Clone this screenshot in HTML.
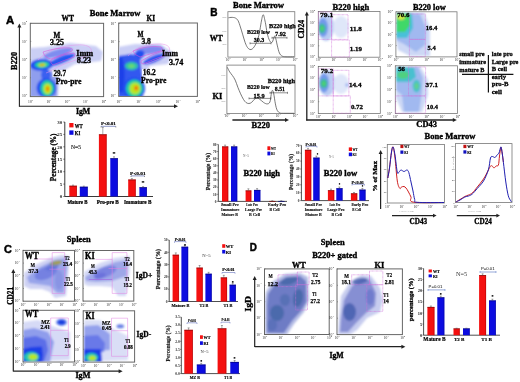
<!DOCTYPE html>
<html><head><meta charset="utf-8"><style>
html,body{margin:0;padding:0;background:#fff;width:520px;height:382px;overflow:hidden;}
svg{display:block;font-family:"Liberation Serif",serif;filter:blur(0.3px);}
</style></head><body>
<svg width="520" height="382" viewBox="0 0 520 382">
<rect x="0" y="0" width="520" height="382" fill="#fff"/>
<text x="6.0" y="24.0" font-size="11" font-weight="bold" font-family="'Liberation Sans', sans-serif" fill="#000" stroke="#000" stroke-width="0.47" textLength="8.2" lengthAdjust="spacingAndGlyphs">A</text>
<text x="89.7" y="16.4" font-size="8.8" font-weight="bold" font-family="'Liberation Serif', serif" fill="#000" stroke="#000" stroke-width="0.37" textLength="50.8" lengthAdjust="spacingAndGlyphs">Bone Marrow</text>
<text x="61.5" y="20.8" font-size="8.8" font-weight="bold" font-family="'Liberation Serif', serif" fill="#000" stroke="#000" stroke-width="0.37" textLength="12.5" lengthAdjust="spacingAndGlyphs">WT</text>
<text x="146.5" y="21.0" font-size="8.8" font-weight="bold" font-family="'Liberation Serif', serif" fill="#000" stroke="#000" stroke-width="0.37" textLength="8.5" lengthAdjust="spacingAndGlyphs">KI</text>
<line x1="19.4" y1="27.1" x2="19.4" y2="106.7" stroke="#222" stroke-width="1.1"/>
<polygon points="19.4,23.6 17.4,27.6 21.4,27.6" fill="#222"/>
<line x1="19.3" y1="106.2" x2="174.5" y2="106.2" stroke="#222" stroke-width="1.1"/>
<polygon points="178.0,106.2 174.0,104.2 174.0,108.2" fill="#222"/>
<text stroke="#000" stroke-width="0.33" transform="translate(17.1,69.9) rotate(-90)" x="0" y="0" font-size="7.8" font-weight="bold" font-family="'Liberation Serif', serif" fill="#000" textLength="18.1" lengthAdjust="spacingAndGlyphs">B220</text>
<text x="75.9" y="114.2" font-size="8.6" font-weight="bold" font-family="'Liberation Serif', serif" fill="#000" stroke="#000" stroke-width="0.37" textLength="14.4" lengthAdjust="spacingAndGlyphs">IgM</text>
<rect x="30.3" y="23.3" width="73.3" height="73.3" fill="#fff" stroke="#666" stroke-width="1.0"/>
<text x="22.0" y="24.5" font-size="3.2" font-family="'Liberation Serif', serif" fill="#2a2a2a" textLength="3.7" lengthAdjust="spacingAndGlyphs">10</text>
<text x="26.0" y="22.4" font-size="2.4" font-family="'Liberation Serif', serif" fill="#2a2a2a">4</text>
<line x1="30.3" y1="23.3" x2="31.3" y2="23.3" stroke="#555" stroke-width="0.5"/>
<text x="22.0" y="42.6" font-size="3.2" font-family="'Liberation Serif', serif" fill="#2a2a2a" textLength="3.7" lengthAdjust="spacingAndGlyphs">10</text>
<text x="26.0" y="40.5" font-size="2.4" font-family="'Liberation Serif', serif" fill="#2a2a2a">3</text>
<line x1="30.3" y1="41.4" x2="31.3" y2="41.4" stroke="#555" stroke-width="0.5"/>
<text x="22.0" y="60.8" font-size="3.2" font-family="'Liberation Serif', serif" fill="#2a2a2a" textLength="3.7" lengthAdjust="spacingAndGlyphs">10</text>
<text x="26.0" y="58.6" font-size="2.4" font-family="'Liberation Serif', serif" fill="#2a2a2a">2</text>
<line x1="30.3" y1="59.5" x2="31.3" y2="59.5" stroke="#555" stroke-width="0.5"/>
<text x="22.0" y="78.9" font-size="3.2" font-family="'Liberation Serif', serif" fill="#2a2a2a" textLength="3.7" lengthAdjust="spacingAndGlyphs">10</text>
<text x="26.0" y="76.8" font-size="2.4" font-family="'Liberation Serif', serif" fill="#2a2a2a">1</text>
<line x1="30.3" y1="77.7" x2="31.3" y2="77.7" stroke="#555" stroke-width="0.5"/>
<text x="22.0" y="97.0" font-size="3.2" font-family="'Liberation Serif', serif" fill="#2a2a2a" textLength="3.7" lengthAdjust="spacingAndGlyphs">10</text>
<text x="26.0" y="94.9" font-size="2.4" font-family="'Liberation Serif', serif" fill="#2a2a2a">0</text>
<line x1="30.3" y1="95.8" x2="31.3" y2="95.8" stroke="#555" stroke-width="0.5"/>
<text x="28.1" y="102.8" font-size="3.4" font-family="'Liberation Serif', serif" fill="#2a2a2a" textLength="3.6" lengthAdjust="spacingAndGlyphs">10</text>
<text x="31.8" y="100.8" font-size="2.4" font-family="'Liberation Serif', serif" fill="#2a2a2a">0</text>
<text x="46.4" y="102.8" font-size="3.4" font-family="'Liberation Serif', serif" fill="#2a2a2a" textLength="3.6" lengthAdjust="spacingAndGlyphs">10</text>
<text x="50.1" y="100.8" font-size="2.4" font-family="'Liberation Serif', serif" fill="#2a2a2a">1</text>
<text x="64.8" y="102.8" font-size="3.4" font-family="'Liberation Serif', serif" fill="#2a2a2a" textLength="3.6" lengthAdjust="spacingAndGlyphs">10</text>
<text x="68.5" y="100.8" font-size="2.4" font-family="'Liberation Serif', serif" fill="#2a2a2a">2</text>
<text x="83.1" y="102.8" font-size="3.4" font-family="'Liberation Serif', serif" fill="#2a2a2a" textLength="3.6" lengthAdjust="spacingAndGlyphs">10</text>
<text x="86.8" y="100.8" font-size="2.4" font-family="'Liberation Serif', serif" fill="#2a2a2a">3</text>
<text x="101.4" y="102.8" font-size="3.4" font-family="'Liberation Serif', serif" fill="#2a2a2a" textLength="3.6" lengthAdjust="spacingAndGlyphs">10</text>
<text x="105.1" y="100.8" font-size="2.4" font-family="'Liberation Serif', serif" fill="#2a2a2a">4</text>
<defs><filter id="f1" x="-50%" y="-50%" width="200%" height="200%"><feGaussianBlur stdDeviation="0.9"/></filter><clipPath id="c1"><rect x="30.8" y="23.8" width="72.3" height="72.3"/></clipPath></defs>
<g clip-path="url(#c1)"><g filter="url(#f1)">
<polygon points="30.0,48.0 45.0,47.0 70.0,43.0 96.0,46.0 103.0,52.0 101.0,61.0 75.0,64.0 60.0,73.0 58.0,97.0 30.0,97.0" fill="#c8ccf4" fill-opacity="0.95"/>
<polygon points="30.0,66.0 40.0,68.0 52.0,72.0 57.0,80.0 57.0,97.0 30.0,97.0" fill="#8c9cee" fill-opacity="0.95"/>
<ellipse cx="58.0" cy="53.0" rx="15.0" ry="3.5" transform="rotate(-15 58.0 53.0)" fill="#7a8af0" fill-opacity="0.95"/>
<ellipse cx="61.0" cy="60.0" rx="15.0" ry="3.6" transform="rotate(-22 61.0 60.0)" fill="#2858f0" fill-opacity="1"/>
<ellipse cx="46.0" cy="75.0" rx="5.0" ry="6.0" transform="rotate(0 46.0 75.0)" fill="#3a60f0" fill-opacity="1"/>
<ellipse cx="41.5" cy="64.8" rx="11.5" ry="6.0" transform="rotate(-3 41.5 64.8)" fill="#2050f0" fill-opacity="1"/>
<ellipse cx="46.5" cy="88.0" rx="10.0" ry="10.0" transform="rotate(0 46.5 88.0)" fill="#2450f0" fill-opacity="1"/>
<ellipse cx="42.0" cy="64.7" rx="7.2" ry="3.3" transform="rotate(-3 42.0 64.7)" fill="#20d0a0" fill-opacity="1"/>
<ellipse cx="42.0" cy="65.0" rx="3.8" ry="1.6" transform="rotate(-5 42.0 65.0)" fill="#c0e818" fill-opacity="1"/>
<ellipse cx="42.0" cy="64.9" rx="1.6" ry="0.9" transform="rotate(0 42.0 64.9)" fill="#f08010" fill-opacity="1"/>
<ellipse cx="47.2" cy="88.3" rx="6.8" ry="8.0" transform="rotate(0 47.2 88.3)" fill="#20d0a0" fill-opacity="1"/>
<ellipse cx="47.5" cy="88.8" rx="4.0" ry="5.2" transform="rotate(0 47.5 88.8)" fill="#c0e818" fill-opacity="1"/>
<ellipse cx="47.6" cy="88.8" rx="1.6" ry="2.6" transform="rotate(0 47.6 88.8)" fill="#f08010" fill-opacity="1"/>
</g></g>
<path d="M38,60 C46,51 60,46 76,45 C86,44 93,47 91,52 C88,57 74,60 62,65 C55,68 50,72 46,73" fill="none" stroke="#e890e8" stroke-width="0.5"/>
<path d="M43,52 Q58,47 70,48 Q74,49 72,51 Q60,55 51,59 Q45,58 43,52 Z" fill="none" stroke="#d850d8" stroke-width="0.55"/>
<path d="M51,60 Q64,54 74,53 Q76,55 74,57 Q62,61 53,65 Q50,63 51,60 Z" fill="none" stroke="#d850d8" stroke-width="0.55"/>
<text x="53.6" y="37.6" font-size="7.6" font-weight="bold" font-family="'Liberation Serif', serif" fill="#000" stroke="#000" stroke-width="0.32" textLength="6.8" lengthAdjust="spacingAndGlyphs">M</text>
<text x="49.9" y="44.5" font-size="7.6" font-weight="bold" font-family="'Liberation Serif', serif" fill="#000" stroke="#000" stroke-width="0.32" textLength="14.0" lengthAdjust="spacingAndGlyphs">3.25</text>
<text x="76.3" y="55.6" font-size="7.6" font-weight="bold" font-family="'Liberation Serif', serif" fill="#000" stroke="#000" stroke-width="0.32" textLength="16.9" lengthAdjust="spacingAndGlyphs">Imm</text>
<text x="76.8" y="63.4" font-size="7.6" font-weight="bold" font-family="'Liberation Serif', serif" fill="#000" stroke="#000" stroke-width="0.32" textLength="14.4" lengthAdjust="spacingAndGlyphs">8.23</text>
<rect x="52.5" y="70" width="14.5" height="7" fill="#fff" fill-opacity="0.9"/>
<text x="53.4" y="76.3" font-size="7.6" font-weight="bold" font-family="'Liberation Serif', serif" fill="#000" stroke="#000" stroke-width="0.32" textLength="12.6" lengthAdjust="spacingAndGlyphs">29.7</text>
<text x="55.7" y="83.6" font-size="7.63" font-weight="bold" font-family="'Liberation Serif', serif" fill="#000" stroke="#000" stroke-width="0.32" textLength="25.7" lengthAdjust="spacingAndGlyphs">Pro-pre</text>
<rect x="118.7" y="23.0" width="78.7" height="73.4" fill="#fff" stroke="#666" stroke-width="1.0"/>
<text x="110.4" y="24.7" font-size="3.2" font-family="'Liberation Serif', serif" fill="#2a2a2a" textLength="3.7" lengthAdjust="spacingAndGlyphs">10</text>
<text x="114.4" y="22.6" font-size="2.4" font-family="'Liberation Serif', serif" fill="#2a2a2a">4</text>
<line x1="118.7" y1="23.5" x2="119.7" y2="23.5" stroke="#555" stroke-width="0.5"/>
<text x="110.4" y="42.8" font-size="3.2" font-family="'Liberation Serif', serif" fill="#2a2a2a" textLength="3.7" lengthAdjust="spacingAndGlyphs">10</text>
<text x="114.4" y="40.7" font-size="2.4" font-family="'Liberation Serif', serif" fill="#2a2a2a">3</text>
<line x1="118.7" y1="41.6" x2="119.7" y2="41.6" stroke="#555" stroke-width="0.5"/>
<text x="110.4" y="60.9" font-size="3.2" font-family="'Liberation Serif', serif" fill="#2a2a2a" textLength="3.7" lengthAdjust="spacingAndGlyphs">10</text>
<text x="114.4" y="58.8" font-size="2.4" font-family="'Liberation Serif', serif" fill="#2a2a2a">2</text>
<line x1="118.7" y1="59.6" x2="119.7" y2="59.6" stroke="#555" stroke-width="0.5"/>
<text x="110.4" y="78.9" font-size="3.2" font-family="'Liberation Serif', serif" fill="#2a2a2a" textLength="3.7" lengthAdjust="spacingAndGlyphs">10</text>
<text x="114.4" y="76.8" font-size="2.4" font-family="'Liberation Serif', serif" fill="#2a2a2a">1</text>
<line x1="118.7" y1="77.7" x2="119.7" y2="77.7" stroke="#555" stroke-width="0.5"/>
<text x="110.4" y="97.0" font-size="3.2" font-family="'Liberation Serif', serif" fill="#2a2a2a" textLength="3.7" lengthAdjust="spacingAndGlyphs">10</text>
<text x="114.4" y="94.9" font-size="2.4" font-family="'Liberation Serif', serif" fill="#2a2a2a">0</text>
<line x1="118.7" y1="95.8" x2="119.7" y2="95.8" stroke="#555" stroke-width="0.5"/>
<text x="116.5" y="102.8" font-size="3.4" font-family="'Liberation Serif', serif" fill="#2a2a2a" textLength="3.6" lengthAdjust="spacingAndGlyphs">10</text>
<text x="120.2" y="100.8" font-size="2.4" font-family="'Liberation Serif', serif" fill="#2a2a2a">0</text>
<text x="136.2" y="102.8" font-size="3.4" font-family="'Liberation Serif', serif" fill="#2a2a2a" textLength="3.6" lengthAdjust="spacingAndGlyphs">10</text>
<text x="139.9" y="100.8" font-size="2.4" font-family="'Liberation Serif', serif" fill="#2a2a2a">1</text>
<text x="155.9" y="102.8" font-size="3.4" font-family="'Liberation Serif', serif" fill="#2a2a2a" textLength="3.6" lengthAdjust="spacingAndGlyphs">10</text>
<text x="159.6" y="100.8" font-size="2.4" font-family="'Liberation Serif', serif" fill="#2a2a2a">2</text>
<text x="175.5" y="102.8" font-size="3.4" font-family="'Liberation Serif', serif" fill="#2a2a2a" textLength="3.6" lengthAdjust="spacingAndGlyphs">10</text>
<text x="179.2" y="100.8" font-size="2.4" font-family="'Liberation Serif', serif" fill="#2a2a2a">3</text>
<text x="195.2" y="102.8" font-size="3.4" font-family="'Liberation Serif', serif" fill="#2a2a2a" textLength="3.6" lengthAdjust="spacingAndGlyphs">10</text>
<text x="198.9" y="100.8" font-size="2.4" font-family="'Liberation Serif', serif" fill="#2a2a2a">4</text>
<defs><filter id="f2" x="-50%" y="-50%" width="200%" height="200%"><feGaussianBlur stdDeviation="0.9"/></filter><clipPath id="c2"><rect x="119.2" y="23.5" width="77.7" height="72.4"/></clipPath></defs>
<g clip-path="url(#c2)"><g filter="url(#f2)">
<polygon points="118.0,47.0 135.0,44.0 160.0,44.0 172.0,52.0 168.0,64.0 150.0,66.0 144.0,75.0 144.0,97.0 118.0,97.0" fill="#c8ccf4" fill-opacity="0.95"/>
<ellipse cx="150.0" cy="50.0" rx="14.0" ry="4.0" transform="rotate(-5 150.0 50.0)" fill="#7a88f0" fill-opacity="0.95"/>
<polygon points="118.0,56.0 132.0,54.0 140.0,58.0 142.0,75.0 143.0,97.0 118.0,97.0" fill="#3058f0" fill-opacity="1"/>
<ellipse cx="138.0" cy="56.0" rx="4.0" ry="5.0" transform="rotate(0 138.0 56.0)" fill="#3058f0" fill-opacity="1"/>
<ellipse cx="140.5" cy="54.0" rx="4.0" ry="3.8" transform="rotate(0 140.5 54.0)" fill="#2050f0" fill-opacity="1"/>
<ellipse cx="154.0" cy="59.0" rx="12.0" ry="3.5" transform="rotate(-22 154.0 59.0)" fill="#3058f0" fill-opacity="1"/>
<ellipse cx="121.0" cy="75.0" rx="3.5" ry="18.0" transform="rotate(0 121.0 75.0)" fill="#1c40e8" fill-opacity="1"/>
<ellipse cx="131.5" cy="66.0" rx="6.5" ry="4.0" transform="rotate(0 131.5 66.0)" fill="#30c8a0" fill-opacity="1"/>
<ellipse cx="131.5" cy="66.0" rx="3.0" ry="1.8" transform="rotate(0 131.5 66.0)" fill="#70d870" fill-opacity="1"/>
<ellipse cx="134.0" cy="88.5" rx="11.0" ry="11.0" transform="rotate(0 134.0 88.5)" fill="#2450f0" fill-opacity="1"/>
<ellipse cx="134.5" cy="88.5" rx="8.5" ry="9.0" transform="rotate(0 134.5 88.5)" fill="#20d0a0" fill-opacity="1"/>
<ellipse cx="135.0" cy="88.5" rx="5.5" ry="6.0" transform="rotate(0 135.0 88.5)" fill="#b8e820" fill-opacity="1"/>
<ellipse cx="136.2" cy="88.0" rx="2.2" ry="2.6" transform="rotate(0 136.2 88.0)" fill="#f08010" fill-opacity="1"/>
</g></g>
<path d="M128,56 C134,48 146,44 160,44 C168,44 172,48 168,53 C164,58 154,61 146,64" fill="none" stroke="#e890e8" stroke-width="0.5"/>
<path d="M133,51 Q148,45 161,47 Q164,49 160,51 Q150,54 140,57 Q134,55 133,51 Z" fill="none" stroke="#d850d8" stroke-width="0.55"/>
<path d="M141,61 Q152,54 163,51 Q166,53 163,56 Q152,60 143,64 Q140,63 141,61 Z" fill="none" stroke="#d850d8" stroke-width="0.55"/>
<text x="137.4" y="36.9" font-size="7.6" font-weight="bold" font-family="'Liberation Serif', serif" fill="#000" stroke="#000" stroke-width="0.32" textLength="6.0" lengthAdjust="spacingAndGlyphs">M</text>
<text x="141.4" y="43.8" font-size="7.6" font-weight="bold" font-family="'Liberation Serif', serif" fill="#000" stroke="#000" stroke-width="0.32" textLength="9.4" lengthAdjust="spacingAndGlyphs">3.8</text>
<text x="162.0" y="55.6" font-size="7.6" font-weight="bold" font-family="'Liberation Serif', serif" fill="#000" stroke="#000" stroke-width="0.32" textLength="16.0" lengthAdjust="spacingAndGlyphs">Imm</text>
<text x="169.0" y="64.5" font-size="7.6" font-weight="bold" font-family="'Liberation Serif', serif" fill="#000" stroke="#000" stroke-width="0.32" textLength="14.3" lengthAdjust="spacingAndGlyphs">3.74</text>
<rect x="142" y="69" width="14" height="7" fill="#fff" fill-opacity="0.85"/>
<text x="142.8" y="75.2" font-size="7.6" font-weight="bold" font-family="'Liberation Serif', serif" fill="#000" stroke="#000" stroke-width="0.32" textLength="13.0" lengthAdjust="spacingAndGlyphs">16.2</text>
<text x="141.0" y="83.0" font-size="7.54" font-weight="bold" font-family="'Liberation Serif', serif" fill="#000" stroke="#000" stroke-width="0.32" textLength="25.3" lengthAdjust="spacingAndGlyphs">Pro-pre</text>
<line x1="64.8" y1="122.0" x2="64.8" y2="196.5" stroke="#222" stroke-width="0.9"/>
<line x1="64.8" y1="196.5" x2="153.0" y2="196.5" stroke="#222" stroke-width="0.9"/>
<line x1="63.3" y1="196.5" x2="64.8" y2="196.5" stroke="#222" stroke-width="0.6"/>
<text x="62.3" y="198.2" font-size="5" font-weight="bold" font-family="'Liberation Serif', serif" fill="#222" text-anchor="end">0</text>
<line x1="63.3" y1="184.1" x2="64.8" y2="184.1" stroke="#222" stroke-width="0.6"/>
<text x="62.3" y="185.8" font-size="5" font-weight="bold" font-family="'Liberation Serif', serif" fill="#222" text-anchor="end">5</text>
<line x1="63.3" y1="171.7" x2="64.8" y2="171.7" stroke="#222" stroke-width="0.6"/>
<text x="62.3" y="173.4" font-size="5" font-weight="bold" font-family="'Liberation Serif', serif" fill="#222" text-anchor="end">10</text>
<line x1="63.3" y1="159.2" x2="64.8" y2="159.2" stroke="#222" stroke-width="0.6"/>
<text x="62.3" y="160.9" font-size="5" font-weight="bold" font-family="'Liberation Serif', serif" fill="#222" text-anchor="end">15</text>
<line x1="63.3" y1="146.8" x2="64.8" y2="146.8" stroke="#222" stroke-width="0.6"/>
<text x="62.3" y="148.5" font-size="5" font-weight="bold" font-family="'Liberation Serif', serif" fill="#222" text-anchor="end">20</text>
<line x1="63.3" y1="134.4" x2="64.8" y2="134.4" stroke="#222" stroke-width="0.6"/>
<text x="62.3" y="136.1" font-size="5" font-weight="bold" font-family="'Liberation Serif', serif" fill="#222" text-anchor="end">25</text>
<line x1="63.3" y1="122.0" x2="64.8" y2="122.0" stroke="#222" stroke-width="0.6"/>
<text x="62.3" y="123.7" font-size="5" font-weight="bold" font-family="'Liberation Serif', serif" fill="#222" text-anchor="end">30</text>
<rect x="69.3" y="185.8" width="7.5" height="10.7" fill="#f41010" stroke="none" stroke-width="1"/>
<line x1="69.3" y1="186.1" x2="76.8" y2="186.1" stroke="#600" stroke-width="0.6"/>
<line x1="76.5" y1="185.8" x2="76.5" y2="196.5" stroke="#a00000" stroke-width="0.5"/>
<line x1="73.0" y1="185.1" x2="73.0" y2="185.8" stroke="#444" stroke-width="0.45"/>
<line x1="72.0" y1="185.1" x2="74.0" y2="185.1" stroke="#444" stroke-width="0.45"/>
<rect x="79.8" y="186.8" width="7.9" height="9.7" fill="#0c0ce0" stroke="none" stroke-width="1"/>
<line x1="79.8" y1="187.1" x2="87.7" y2="187.1" stroke="#000060" stroke-width="0.6"/>
<line x1="87.4" y1="186.8" x2="87.4" y2="196.5" stroke="#000090" stroke-width="0.5"/>
<line x1="83.8" y1="186.1" x2="83.8" y2="186.8" stroke="#444" stroke-width="0.45"/>
<line x1="82.8" y1="186.1" x2="84.8" y2="186.1" stroke="#444" stroke-width="0.45"/>
<rect x="98.9" y="134.4" width="7.7" height="62.1" fill="#f41010" stroke="none" stroke-width="1"/>
<line x1="98.9" y1="134.7" x2="106.6" y2="134.7" stroke="#600" stroke-width="0.6"/>
<line x1="106.3" y1="134.4" x2="106.3" y2="196.5" stroke="#a00000" stroke-width="0.5"/>
<line x1="102.8" y1="127.5" x2="102.8" y2="134.4" stroke="#444" stroke-width="0.45"/>
<line x1="101.8" y1="127.5" x2="103.8" y2="127.5" stroke="#444" stroke-width="0.45"/>
<rect x="110.3" y="158.3" width="7.5" height="38.2" fill="#0c0ce0" stroke="none" stroke-width="1"/>
<line x1="110.3" y1="158.6" x2="117.8" y2="158.6" stroke="#000060" stroke-width="0.6"/>
<line x1="117.5" y1="158.3" x2="117.5" y2="196.5" stroke="#000090" stroke-width="0.5"/>
<line x1="114.0" y1="156.8" x2="114.0" y2="158.3" stroke="#444" stroke-width="0.45"/>
<line x1="113.0" y1="156.8" x2="115.0" y2="156.8" stroke="#444" stroke-width="0.45"/>
<rect x="128.2" y="179.6" width="7.5" height="16.9" fill="#f41010" stroke="none" stroke-width="1"/>
<line x1="128.2" y1="179.9" x2="135.7" y2="179.9" stroke="#600" stroke-width="0.6"/>
<line x1="135.4" y1="179.6" x2="135.4" y2="196.5" stroke="#a00000" stroke-width="0.5"/>
<line x1="131.9" y1="178.6" x2="131.9" y2="179.6" stroke="#444" stroke-width="0.45"/>
<line x1="130.9" y1="178.6" x2="132.9" y2="178.6" stroke="#444" stroke-width="0.45"/>
<rect x="139.4" y="187.3" width="7.4" height="9.2" fill="#0c0ce0" stroke="none" stroke-width="1"/>
<line x1="139.4" y1="187.6" x2="146.8" y2="187.6" stroke="#000060" stroke-width="0.6"/>
<line x1="146.5" y1="187.3" x2="146.5" y2="196.5" stroke="#000090" stroke-width="0.5"/>
<line x1="143.1" y1="186.6" x2="143.1" y2="187.3" stroke="#444" stroke-width="0.45"/>
<line x1="142.1" y1="186.6" x2="144.1" y2="186.6" stroke="#444" stroke-width="0.45"/>
<rect x="69.3" y="123.0" width="4.2" height="4.4" fill="#f41010" stroke="none" stroke-width="1"/>
<text x="74.8" y="127.8" font-size="5.8" font-weight="bold" font-family="'Liberation Serif', serif" fill="#000" stroke="#000" stroke-width="0.25" textLength="7.9" lengthAdjust="spacingAndGlyphs">WT</text>
<rect x="69.3" y="130.4" width="4.2" height="4.4" fill="#0c0ce0" stroke="none" stroke-width="1"/>
<text x="74.8" y="135.0" font-size="5.8" font-weight="bold" font-family="'Liberation Serif', serif" fill="#000" stroke="#000" stroke-width="0.25" textLength="5.4" lengthAdjust="spacingAndGlyphs">KI</text>
<text x="71.0" y="148.6" font-size="5.8" font-weight="normal" font-family="'Liberation Serif', serif" fill="#222" textLength="10.0" lengthAdjust="spacingAndGlyphs" stroke="#222" stroke-width="0.15">N=5</text>
<text x="100.9" y="125.2" font-size="5" font-weight="bold" font-family="'Liberation Serif', serif" fill="#000" stroke="#000" stroke-width="0.16" textLength="14.9" lengthAdjust="spacingAndGlyphs">P&lt;0.01</text>
<line x1="101.0" y1="126.3" x2="115.8" y2="126.3" stroke="#4050a0" stroke-width="0.6"/>
<line x1="101.0" y1="126.3" x2="101.0" y2="127.5" stroke="#333" stroke-width="0.5"/>
<line x1="115.8" y1="126.3" x2="115.8" y2="127.5" stroke="#333" stroke-width="0.5"/>
<text x="130.0" y="174.8" font-size="5" font-weight="bold" font-family="'Liberation Serif', serif" fill="#000" stroke="#000" stroke-width="0.16" textLength="15.6" lengthAdjust="spacingAndGlyphs">P&lt;0.01</text>
<line x1="131.0" y1="175.9" x2="144.5" y2="175.9" stroke="#4050a0" stroke-width="0.6"/>
<line x1="131.0" y1="175.9" x2="131.0" y2="177.0" stroke="#333" stroke-width="0.5"/>
<line x1="144.5" y1="175.9" x2="144.5" y2="177.0" stroke="#333" stroke-width="0.5"/>
<text x="112.5" y="154.5" font-size="5" font-weight="bold" font-family="'Liberation Serif', serif" fill="#000" stroke="#000" stroke-width="0.16" textLength="3.0" lengthAdjust="spacingAndGlyphs">*</text>
<text x="141.5" y="183.8" font-size="5" font-weight="bold" font-family="'Liberation Serif', serif" fill="#000" stroke="#000" stroke-width="0.16" textLength="3.0" lengthAdjust="spacingAndGlyphs">*</text>
<text stroke="#000" stroke-width="0.31" transform="translate(55.5,181.2) rotate(-90)" x="0" y="0" font-size="7.2" font-weight="bold" font-family="'Liberation Serif', serif" fill="#000" textLength="47.6" lengthAdjust="spacingAndGlyphs">Percentage (%)</text>
<text x="67.4" y="204.3" font-size="5.6" font-weight="bold" font-family="'Liberation Serif', serif" fill="#000" stroke="#000" stroke-width="0.24" textLength="20.1" lengthAdjust="spacingAndGlyphs">Mature B</text>
<text x="96.8" y="204.3" font-size="5.6" font-weight="bold" font-family="'Liberation Serif', serif" fill="#000" stroke="#000" stroke-width="0.24" textLength="22.0" lengthAdjust="spacingAndGlyphs">Pro-pre B</text>
<text x="124.1" y="204.3" font-size="5.6" font-weight="bold" font-family="'Liberation Serif', serif" fill="#000" stroke="#000" stroke-width="0.24" textLength="27.3" lengthAdjust="spacingAndGlyphs">Immature B</text>
<text x="210.2" y="16.4" font-size="10.5" font-weight="bold" font-family="'Liberation Sans', sans-serif" fill="#000" stroke="#000" stroke-width="0.45" textLength="7.3" lengthAdjust="spacingAndGlyphs">B</text>
<text x="233.0" y="8.3" font-size="8.76" font-weight="bold" font-family="'Liberation Serif', serif" fill="#000" stroke="#000" stroke-width="0.37" textLength="51.0" lengthAdjust="spacingAndGlyphs">Bone Marrow</text>
<text x="209.7" y="40.8" font-size="8.8" font-weight="bold" font-family="'Liberation Serif', serif" fill="#000" stroke="#000" stroke-width="0.37" textLength="13.0" lengthAdjust="spacingAndGlyphs">WT</text>
<text x="212.5" y="98.6" font-size="9.2" font-weight="bold" font-family="'Liberation Serif', serif" fill="#000" stroke="#000" stroke-width="0.39" textLength="9.7" lengthAdjust="spacingAndGlyphs">KI</text>
<rect x="227.9" y="11.7" width="66.9" height="45.4" fill="#fff" stroke="#777" stroke-width="0.8"/>
<text x="226.4" y="18.3" font-size="2.8" font-weight="normal" font-family="'Liberation Serif', serif" fill="#999" text-anchor="end">800</text>
<text x="226.4" y="31.5" font-size="2.8" font-weight="normal" font-family="'Liberation Serif', serif" fill="#999" text-anchor="end">600</text>
<text x="226.4" y="45.0" font-size="2.8" font-weight="normal" font-family="'Liberation Serif', serif" fill="#999" text-anchor="end">400</text>
<text x="226.4" y="58.0" font-size="2.8" font-weight="normal" font-family="'Liberation Serif', serif" fill="#999" text-anchor="end">0</text>
<text x="225.7" y="61.1" font-size="3.4" font-family="'Liberation Serif', serif" fill="#2a2a2a" textLength="3.6" lengthAdjust="spacingAndGlyphs">10</text>
<text x="229.4" y="59.1" font-size="2.4" font-family="'Liberation Serif', serif" fill="#2a2a2a">0</text>
<text x="242.4" y="61.1" font-size="3.4" font-family="'Liberation Serif', serif" fill="#2a2a2a" textLength="3.6" lengthAdjust="spacingAndGlyphs">10</text>
<text x="246.1" y="59.1" font-size="2.4" font-family="'Liberation Serif', serif" fill="#2a2a2a">1</text>
<text x="259.2" y="61.1" font-size="3.4" font-family="'Liberation Serif', serif" fill="#2a2a2a" textLength="3.6" lengthAdjust="spacingAndGlyphs">10</text>
<text x="262.9" y="59.1" font-size="2.4" font-family="'Liberation Serif', serif" fill="#2a2a2a">2</text>
<text x="275.9" y="61.1" font-size="3.4" font-family="'Liberation Serif', serif" fill="#2a2a2a" textLength="3.6" lengthAdjust="spacingAndGlyphs">10</text>
<text x="279.6" y="59.1" font-size="2.4" font-family="'Liberation Serif', serif" fill="#2a2a2a">3</text>
<text x="292.6" y="61.1" font-size="3.4" font-family="'Liberation Serif', serif" fill="#2a2a2a" textLength="3.6" lengthAdjust="spacingAndGlyphs">10</text>
<text x="296.3" y="59.1" font-size="2.4" font-family="'Liberation Serif', serif" fill="#2a2a2a">4</text>
<path d="M228.4,17.8 C228.8,17.7 230.2,17.4 231.0,17.4 C231.8,17.3 232.7,17.4 233.5,17.5 C234.3,17.6 234.9,17.7 235.7,18.2 C236.5,18.7 237.3,19.2 238.1,20.7 C238.9,22.2 239.6,24.6 240.4,27.0 C241.2,29.4 242.0,32.3 242.8,34.9 C243.6,37.5 244.4,40.6 245.2,42.7 C246.0,44.8 246.7,46.4 247.5,47.5 C248.3,48.6 249.1,49.2 249.9,49.5 C250.7,49.8 251.4,49.5 252.2,49.0 C253.0,48.5 253.8,47.5 254.6,46.2 C255.4,44.9 256.2,43.4 257.0,41.2 C257.8,39.1 258.6,36.4 259.3,33.3 C260.0,30.1 260.6,25.4 261.2,22.3 C261.8,19.2 262.5,14.7 263.2,14.7 C263.9,14.7 264.6,19.2 265.3,22.3 C266.0,25.4 266.5,30.3 267.2,33.3 C267.9,36.3 268.7,38.9 269.5,40.4 C270.3,41.9 271.2,42.8 271.9,42.5 C272.6,42.2 273.1,39.9 273.5,38.8 C273.9,37.7 274.2,36.1 274.6,36.1 C275.0,36.1 275.3,37.2 275.8,38.8 C276.3,40.4 276.8,43.5 277.4,45.9 C278.0,48.3 278.6,51.3 279.4,53.0 C280.2,54.7 281.0,55.5 282.1,56.1 C283.2,56.7 284.0,56.7 286.0,56.8 C288.0,56.9 292.7,56.8 294.0,56.8" fill="none" stroke="#555" stroke-width="0.8" stroke-linejoin="round"/>
<line x1="250.0" y1="43.3" x2="271.0" y2="43.3" stroke="#444" stroke-width="0.6"/>
<line x1="250.0" y1="42.3" x2="250.0" y2="44.3" stroke="#444" stroke-width="0.6"/>
<line x1="271.0" y1="42.3" x2="271.0" y2="44.3" stroke="#444" stroke-width="0.6"/>
<line x1="272.0" y1="37.8" x2="287.0" y2="37.8" stroke="#444" stroke-width="0.6"/>
<line x1="272.0" y1="36.8" x2="272.0" y2="38.8" stroke="#444" stroke-width="0.6"/>
<line x1="287.0" y1="36.8" x2="287.0" y2="38.8" stroke="#444" stroke-width="0.6"/>
<text x="247.0" y="33.8" font-size="5.7" font-weight="bold" font-family="'Liberation Serif', serif" fill="#000" stroke="#000" stroke-width="0.24" textLength="23.0" lengthAdjust="spacingAndGlyphs">B220 low</text>
<text x="253.8" y="41.6" font-size="6.8" font-weight="bold" font-family="'Liberation Serif', serif" fill="#000" stroke="#000" stroke-width="0.29" textLength="10.4" lengthAdjust="spacingAndGlyphs">30.3</text>
<text x="269.0" y="28.1" font-size="5.95" font-weight="bold" font-family="'Liberation Serif', serif" fill="#000" stroke="#000" stroke-width="0.25" textLength="26.8" lengthAdjust="spacingAndGlyphs">B220 high</text>
<text x="275.0" y="35.8" font-size="6.2" font-weight="bold" font-family="'Liberation Serif', serif" fill="#000" stroke="#000" stroke-width="0.26" textLength="11.0" lengthAdjust="spacingAndGlyphs">7.92</text>
<rect x="226.9" y="65.1" width="68.1" height="48.5" fill="#fff" stroke="#777" stroke-width="0.8"/>
<text x="225.4" y="76.0" font-size="2.8" font-weight="normal" font-family="'Liberation Serif', serif" fill="#999" text-anchor="end">600</text>
<text x="225.4" y="89.0" font-size="2.8" font-weight="normal" font-family="'Liberation Serif', serif" fill="#999" text-anchor="end">400</text>
<text x="225.4" y="102.0" font-size="2.8" font-weight="normal" font-family="'Liberation Serif', serif" fill="#999" text-anchor="end">200</text>
<text x="225.4" y="114.6" font-size="2.8" font-weight="normal" font-family="'Liberation Serif', serif" fill="#999" text-anchor="end">0</text>
<text x="224.7" y="117.0" font-size="3.4" font-family="'Liberation Serif', serif" fill="#2a2a2a" textLength="3.6" lengthAdjust="spacingAndGlyphs">10</text>
<text x="228.4" y="115.0" font-size="2.4" font-family="'Liberation Serif', serif" fill="#2a2a2a">0</text>
<text x="241.7" y="117.0" font-size="3.4" font-family="'Liberation Serif', serif" fill="#2a2a2a" textLength="3.6" lengthAdjust="spacingAndGlyphs">10</text>
<text x="245.4" y="115.0" font-size="2.4" font-family="'Liberation Serif', serif" fill="#2a2a2a">1</text>
<text x="258.8" y="117.0" font-size="3.4" font-family="'Liberation Serif', serif" fill="#2a2a2a" textLength="3.6" lengthAdjust="spacingAndGlyphs">10</text>
<text x="262.4" y="115.0" font-size="2.4" font-family="'Liberation Serif', serif" fill="#2a2a2a">2</text>
<text x="275.8" y="117.0" font-size="3.4" font-family="'Liberation Serif', serif" fill="#2a2a2a" textLength="3.6" lengthAdjust="spacingAndGlyphs">10</text>
<text x="279.5" y="115.0" font-size="2.4" font-family="'Liberation Serif', serif" fill="#2a2a2a">3</text>
<text x="292.8" y="117.0" font-size="3.4" font-family="'Liberation Serif', serif" fill="#2a2a2a" textLength="3.6" lengthAdjust="spacingAndGlyphs">10</text>
<text x="296.5" y="115.0" font-size="2.4" font-family="'Liberation Serif', serif" fill="#2a2a2a">4</text>
<path d="M227.3,67.3 C227.7,68.1 228.8,70.5 229.7,71.9 C230.5,73.3 231.5,74.1 232.4,75.5 C233.3,76.9 234.3,78.1 235.2,80.1 C236.1,82.1 237.0,85.1 237.9,87.4 C238.8,89.7 239.7,91.8 240.6,93.8 C241.5,95.8 242.5,97.8 243.4,99.3 C244.3,100.8 245.2,101.9 246.1,102.6 C247.0,103.3 248.0,103.5 248.9,103.5 C249.8,103.5 250.7,103.1 251.6,102.4 C252.5,101.7 253.5,100.0 254.4,99.3 C255.3,98.6 256.2,98.0 257.1,98.0 C258.0,98.0 258.7,98.6 259.8,99.3 C260.9,100.0 262.3,101.6 263.5,102.4 C264.7,103.2 266.1,104.0 267.2,103.9 C268.3,103.8 269.2,103.6 269.9,102.0 C270.6,100.4 270.8,96.4 271.2,94.5 C271.6,92.6 271.9,90.7 272.3,90.4 C272.7,90.2 273.1,90.8 273.6,93.0 C274.1,95.2 274.8,101.0 275.4,103.9 C276.0,106.8 276.4,108.8 277.2,110.3 C278.0,111.8 278.9,112.5 280.0,113.0 C281.1,113.5 281.3,113.2 283.6,113.3 C285.9,113.3 292.3,113.3 294.0,113.3" fill="none" stroke="#555" stroke-width="0.8" stroke-linejoin="round"/>
<line x1="249.0" y1="98.4" x2="270.8" y2="98.4" stroke="#444" stroke-width="0.6"/>
<line x1="249.0" y1="97.4" x2="249.0" y2="99.4" stroke="#444" stroke-width="0.6"/>
<line x1="270.8" y1="97.4" x2="270.8" y2="99.4" stroke="#444" stroke-width="0.6"/>
<line x1="270.0" y1="92.8" x2="287.5" y2="92.8" stroke="#444" stroke-width="0.6"/>
<line x1="270.0" y1="91.8" x2="270.0" y2="93.8" stroke="#444" stroke-width="0.6"/>
<line x1="287.5" y1="91.8" x2="287.5" y2="93.8" stroke="#444" stroke-width="0.6"/>
<text x="247.0" y="89.4" font-size="5.64" font-weight="bold" font-family="'Liberation Serif', serif" fill="#000" stroke="#000" stroke-width="0.24" textLength="22.7" lengthAdjust="spacingAndGlyphs">B220 low</text>
<text x="253.6" y="97.5" font-size="6.8" font-weight="bold" font-family="'Liberation Serif', serif" fill="#000" stroke="#000" stroke-width="0.29" textLength="11.1" lengthAdjust="spacingAndGlyphs">15.9</text>
<text x="267.7" y="83.4" font-size="6.03" font-weight="bold" font-family="'Liberation Serif', serif" fill="#000" stroke="#000" stroke-width="0.26" textLength="27.3" lengthAdjust="spacingAndGlyphs">B220 high</text>
<text x="274.8" y="90.9" font-size="6.2" font-weight="bold" font-family="'Liberation Serif', serif" fill="#000" stroke="#000" stroke-width="0.26" textLength="10.1" lengthAdjust="spacingAndGlyphs">8.51</text>
<line x1="232.4" y1="120.0" x2="285.5" y2="120.0" stroke="#222" stroke-width="1.3"/>
<polygon points="289.0,120.0 285.0,118.0 285.0,122.0" fill="#222"/>
<text x="251.6" y="127.8" font-size="7.6" font-weight="bold" font-family="'Liberation Serif', serif" fill="#000" stroke="#000" stroke-width="0.32" textLength="18.4" lengthAdjust="spacingAndGlyphs">B220</text>
<text x="332.5" y="9.6" font-size="8.34" font-weight="bold" font-family="'Liberation Serif', serif" fill="#000" stroke="#000" stroke-width="0.35" textLength="36.7" lengthAdjust="spacingAndGlyphs">B220 high</text>
<text x="412.9" y="9.6" font-size="8.23" font-weight="bold" font-family="'Liberation Serif', serif" fill="#000" stroke="#000" stroke-width="0.35" textLength="32.8" lengthAdjust="spacingAndGlyphs">B220 low</text>
<line x1="306.8" y1="15.0" x2="306.8" y2="120.5" stroke="#222" stroke-width="1.3"/>
<polygon points="306.8,11.5 304.8,15.5 308.8,15.5" fill="#222"/>
<line x1="306.2" y1="120.0" x2="453.3" y2="120.0" stroke="#222" stroke-width="1.3"/>
<polygon points="456.8,120.0 452.8,118.0 452.8,122.0" fill="#222"/>
<text stroke="#000" stroke-width="0.32" transform="translate(304.4,38.6) rotate(-90)" x="0" y="0" font-size="7.6" font-weight="bold" font-family="'Liberation Serif', serif" fill="#000" textLength="18.7" lengthAdjust="spacingAndGlyphs">CD24</text>
<text x="416.3" y="127.4" font-size="7.6" font-weight="bold" font-family="'Liberation Serif', serif" fill="#000" stroke="#000" stroke-width="0.32" textLength="20.7" lengthAdjust="spacingAndGlyphs">CD43</text>
<rect x="318.3" y="11.5" width="61.7" height="45.7" fill="#fff" stroke="#777" stroke-width="0.8"/>
<text x="310.0" y="12.7" font-size="3.2" font-family="'Liberation Serif', serif" fill="#2a2a2a" textLength="3.7" lengthAdjust="spacingAndGlyphs">10</text>
<text x="314.0" y="10.6" font-size="2.4" font-family="'Liberation Serif', serif" fill="#2a2a2a">4</text>
<line x1="318.3" y1="11.5" x2="319.3" y2="11.5" stroke="#555" stroke-width="0.5"/>
<text x="310.0" y="24.1" font-size="3.2" font-family="'Liberation Serif', serif" fill="#2a2a2a" textLength="3.7" lengthAdjust="spacingAndGlyphs">10</text>
<text x="314.0" y="22.0" font-size="2.4" font-family="'Liberation Serif', serif" fill="#2a2a2a">3</text>
<line x1="318.3" y1="22.9" x2="319.3" y2="22.9" stroke="#555" stroke-width="0.5"/>
<text x="310.0" y="35.6" font-size="3.2" font-family="'Liberation Serif', serif" fill="#2a2a2a" textLength="3.7" lengthAdjust="spacingAndGlyphs">10</text>
<text x="314.0" y="33.5" font-size="2.4" font-family="'Liberation Serif', serif" fill="#2a2a2a">2</text>
<line x1="318.3" y1="34.4" x2="319.3" y2="34.4" stroke="#555" stroke-width="0.5"/>
<text x="310.0" y="47.0" font-size="3.2" font-family="'Liberation Serif', serif" fill="#2a2a2a" textLength="3.7" lengthAdjust="spacingAndGlyphs">10</text>
<text x="314.0" y="44.9" font-size="2.4" font-family="'Liberation Serif', serif" fill="#2a2a2a">1</text>
<line x1="318.3" y1="45.8" x2="319.3" y2="45.8" stroke="#555" stroke-width="0.5"/>
<text x="310.0" y="58.4" font-size="3.2" font-family="'Liberation Serif', serif" fill="#2a2a2a" textLength="3.7" lengthAdjust="spacingAndGlyphs">10</text>
<text x="314.0" y="56.3" font-size="2.4" font-family="'Liberation Serif', serif" fill="#2a2a2a">0</text>
<line x1="318.3" y1="57.2" x2="319.3" y2="57.2" stroke="#555" stroke-width="0.5"/>
<text x="316.1" y="61.4" font-size="3.4" font-family="'Liberation Serif', serif" fill="#2a2a2a" textLength="3.6" lengthAdjust="spacingAndGlyphs">10</text>
<text x="319.8" y="59.4" font-size="2.4" font-family="'Liberation Serif', serif" fill="#2a2a2a">0</text>
<text x="331.5" y="61.4" font-size="3.4" font-family="'Liberation Serif', serif" fill="#2a2a2a" textLength="3.6" lengthAdjust="spacingAndGlyphs">10</text>
<text x="335.2" y="59.4" font-size="2.4" font-family="'Liberation Serif', serif" fill="#2a2a2a">1</text>
<text x="346.9" y="61.4" font-size="3.4" font-family="'Liberation Serif', serif" fill="#2a2a2a" textLength="3.6" lengthAdjust="spacingAndGlyphs">10</text>
<text x="350.6" y="59.4" font-size="2.4" font-family="'Liberation Serif', serif" fill="#2a2a2a">2</text>
<text x="362.4" y="61.4" font-size="3.4" font-family="'Liberation Serif', serif" fill="#2a2a2a" textLength="3.6" lengthAdjust="spacingAndGlyphs">10</text>
<text x="366.1" y="59.4" font-size="2.4" font-family="'Liberation Serif', serif" fill="#2a2a2a">3</text>
<text x="377.8" y="61.4" font-size="3.4" font-family="'Liberation Serif', serif" fill="#2a2a2a" textLength="3.6" lengthAdjust="spacingAndGlyphs">10</text>
<text x="381.5" y="59.4" font-size="2.4" font-family="'Liberation Serif', serif" fill="#2a2a2a">4</text>
<defs><filter id="f3" x="-50%" y="-50%" width="200%" height="200%"><feGaussianBlur stdDeviation="1.0"/></filter><clipPath id="c3"><rect x="318.8" y="12.0" width="60.69999999999999" height="44.7"/></clipPath></defs>
<g clip-path="url(#c3)"><g filter="url(#f3)">
<ellipse cx="326.0" cy="27.0" rx="8.0" ry="14.0" transform="rotate(0 326.0 27.0)" fill="#b4c6f2" fill-opacity="0.9"/>
<ellipse cx="341.0" cy="27.0" rx="8.0" ry="11.0" transform="rotate(0 341.0 27.0)" fill="#dce4f8" fill-opacity="0.9"/>
<ellipse cx="323.0" cy="27.5" rx="5.0" ry="9.5" transform="rotate(0 323.0 27.5)" fill="#6a94ea" fill-opacity="0.9"/>
<ellipse cx="322.0" cy="28.5" rx="3.6" ry="4.8" transform="rotate(0 322.0 28.5)" fill="#38b8a0" fill-opacity="1"/>
<ellipse cx="322.0" cy="28.5" rx="2.0" ry="2.6" transform="rotate(0 322.0 28.5)" fill="#50d070" fill-opacity="1"/>
</g></g>
<rect x="318.6" y="12.0" width="13.0" height="27.4" fill="none" stroke="#d070d8" stroke-width="0.6" stroke-dasharray="0.8,0.5"/>
<rect x="331.6" y="14.7" width="16.4" height="24.7" fill="none" stroke="#d070d8" stroke-width="0.6" stroke-dasharray="0.8,0.5"/>
<rect x="331.6" y="40.1" width="17.8" height="16.8" fill="none" stroke="#d070d8" stroke-width="0.6" stroke-dasharray="0.8,0.5"/>
<text x="320.0" y="17.4" font-size="6.6" font-weight="bold" font-family="'Liberation Serif', serif" fill="#000" stroke="#000" stroke-width="0.28" textLength="13.4" lengthAdjust="spacingAndGlyphs">79.1</text>
<text x="349.8" y="31.2" font-size="7" font-weight="bold" font-family="'Liberation Serif', serif" fill="#000" stroke="#000" stroke-width="0.30" textLength="12.1" lengthAdjust="spacingAndGlyphs">11.8</text>
<text x="349.8" y="51.1" font-size="7" font-weight="bold" font-family="'Liberation Serif', serif" fill="#000" stroke="#000" stroke-width="0.30" textLength="12.2" lengthAdjust="spacingAndGlyphs">1.19</text>
<rect x="318.3" y="66.4" width="62.0" height="47.1" fill="#fff" stroke="#777" stroke-width="0.8"/>
<text x="310.0" y="67.6" font-size="3.2" font-family="'Liberation Serif', serif" fill="#2a2a2a" textLength="3.7" lengthAdjust="spacingAndGlyphs">10</text>
<text x="314.0" y="65.5" font-size="2.4" font-family="'Liberation Serif', serif" fill="#2a2a2a">4</text>
<line x1="318.3" y1="66.4" x2="319.3" y2="66.4" stroke="#555" stroke-width="0.5"/>
<text x="310.0" y="79.4" font-size="3.2" font-family="'Liberation Serif', serif" fill="#2a2a2a" textLength="3.7" lengthAdjust="spacingAndGlyphs">10</text>
<text x="314.0" y="77.3" font-size="2.4" font-family="'Liberation Serif', serif" fill="#2a2a2a">3</text>
<line x1="318.3" y1="78.2" x2="319.3" y2="78.2" stroke="#555" stroke-width="0.5"/>
<text x="310.0" y="91.2" font-size="3.2" font-family="'Liberation Serif', serif" fill="#2a2a2a" textLength="3.7" lengthAdjust="spacingAndGlyphs">10</text>
<text x="314.0" y="89.0" font-size="2.4" font-family="'Liberation Serif', serif" fill="#2a2a2a">2</text>
<line x1="318.3" y1="90.0" x2="319.3" y2="90.0" stroke="#555" stroke-width="0.5"/>
<text x="310.0" y="102.9" font-size="3.2" font-family="'Liberation Serif', serif" fill="#2a2a2a" textLength="3.7" lengthAdjust="spacingAndGlyphs">10</text>
<text x="314.0" y="100.8" font-size="2.4" font-family="'Liberation Serif', serif" fill="#2a2a2a">1</text>
<line x1="318.3" y1="101.7" x2="319.3" y2="101.7" stroke="#555" stroke-width="0.5"/>
<text x="310.0" y="114.7" font-size="3.2" font-family="'Liberation Serif', serif" fill="#2a2a2a" textLength="3.7" lengthAdjust="spacingAndGlyphs">10</text>
<text x="314.0" y="112.6" font-size="2.4" font-family="'Liberation Serif', serif" fill="#2a2a2a">0</text>
<line x1="318.3" y1="113.5" x2="319.3" y2="113.5" stroke="#555" stroke-width="0.5"/>
<text x="316.1" y="117.7" font-size="3.4" font-family="'Liberation Serif', serif" fill="#2a2a2a" textLength="3.6" lengthAdjust="spacingAndGlyphs">10</text>
<text x="319.8" y="115.7" font-size="2.4" font-family="'Liberation Serif', serif" fill="#2a2a2a">0</text>
<text x="331.6" y="117.7" font-size="3.4" font-family="'Liberation Serif', serif" fill="#2a2a2a" textLength="3.6" lengthAdjust="spacingAndGlyphs">10</text>
<text x="335.3" y="115.7" font-size="2.4" font-family="'Liberation Serif', serif" fill="#2a2a2a">1</text>
<text x="347.1" y="117.7" font-size="3.4" font-family="'Liberation Serif', serif" fill="#2a2a2a" textLength="3.6" lengthAdjust="spacingAndGlyphs">10</text>
<text x="350.8" y="115.7" font-size="2.4" font-family="'Liberation Serif', serif" fill="#2a2a2a">2</text>
<text x="362.6" y="117.7" font-size="3.4" font-family="'Liberation Serif', serif" fill="#2a2a2a" textLength="3.6" lengthAdjust="spacingAndGlyphs">10</text>
<text x="366.3" y="115.7" font-size="2.4" font-family="'Liberation Serif', serif" fill="#2a2a2a">3</text>
<text x="378.1" y="117.7" font-size="3.4" font-family="'Liberation Serif', serif" fill="#2a2a2a" textLength="3.6" lengthAdjust="spacingAndGlyphs">10</text>
<text x="381.8" y="115.7" font-size="2.4" font-family="'Liberation Serif', serif" fill="#2a2a2a">4</text>
<defs><filter id="f4" x="-50%" y="-50%" width="200%" height="200%"><feGaussianBlur stdDeviation="1.0"/></filter><clipPath id="c4"><rect x="318.8" y="66.9" width="61.0" height="46.099999999999994"/></clipPath></defs>
<g clip-path="url(#c4)"><g filter="url(#f4)">
<ellipse cx="327.0" cy="83.0" rx="8.0" ry="13.0" transform="rotate(0 327.0 83.0)" fill="#b4c6f2" fill-opacity="0.9"/>
<ellipse cx="341.0" cy="84.0" rx="8.0" ry="10.0" transform="rotate(0 341.0 84.0)" fill="#dce4f8" fill-opacity="0.9"/>
<ellipse cx="347.0" cy="85.0" rx="1.8" ry="1.8" transform="rotate(0 347.0 85.0)" fill="#90a8ee" fill-opacity="0.8"/>
<ellipse cx="324.0" cy="83.0" rx="5.0" ry="9.5" transform="rotate(0 324.0 83.0)" fill="#6a94ea" fill-opacity="0.9"/>
<ellipse cx="323.8" cy="83.5" rx="3.6" ry="4.5" transform="rotate(0 323.8 83.5)" fill="#38b8a0" fill-opacity="1"/>
<ellipse cx="323.8" cy="83.5" rx="2.0" ry="2.6" transform="rotate(0 323.8 83.5)" fill="#50d070" fill-opacity="1"/>
</g></g>
<rect x="318.6" y="68.8" width="14.6" height="27.1" fill="none" stroke="#d070d8" stroke-width="0.6" stroke-dasharray="0.8,0.5"/>
<rect x="333.2" y="70.3" width="15.7" height="25.6" fill="none" stroke="#d070d8" stroke-width="0.6" stroke-dasharray="0.8,0.5"/>
<rect x="333.2" y="95.9" width="17.1" height="17.3" fill="none" stroke="#d070d8" stroke-width="0.6" stroke-dasharray="0.8,0.5"/>
<text x="320.8" y="72.8" font-size="6.6" font-weight="bold" font-family="'Liberation Serif', serif" fill="#000" stroke="#000" stroke-width="0.28" textLength="12.4" lengthAdjust="spacingAndGlyphs">79.2</text>
<text x="348.9" y="86.5" font-size="7" font-weight="bold" font-family="'Liberation Serif', serif" fill="#000" stroke="#000" stroke-width="0.30" textLength="12.6" lengthAdjust="spacingAndGlyphs">14.4</text>
<text x="350.9" y="109.1" font-size="7" font-weight="bold" font-family="'Liberation Serif', serif" fill="#000" stroke="#000" stroke-width="0.30" textLength="12.1" lengthAdjust="spacingAndGlyphs">0.72</text>
<rect x="395.9" y="11.8" width="61.1" height="45.1" fill="#fff" stroke="#777" stroke-width="0.8"/>
<text x="387.6" y="13.0" font-size="3.2" font-family="'Liberation Serif', serif" fill="#2a2a2a" textLength="3.7" lengthAdjust="spacingAndGlyphs">10</text>
<text x="391.6" y="10.9" font-size="2.4" font-family="'Liberation Serif', serif" fill="#2a2a2a">4</text>
<line x1="395.9" y1="11.8" x2="396.9" y2="11.8" stroke="#555" stroke-width="0.5"/>
<text x="387.6" y="24.3" font-size="3.2" font-family="'Liberation Serif', serif" fill="#2a2a2a" textLength="3.7" lengthAdjust="spacingAndGlyphs">10</text>
<text x="391.6" y="22.2" font-size="2.4" font-family="'Liberation Serif', serif" fill="#2a2a2a">3</text>
<line x1="395.9" y1="23.1" x2="396.9" y2="23.1" stroke="#555" stroke-width="0.5"/>
<text x="387.6" y="35.5" font-size="3.2" font-family="'Liberation Serif', serif" fill="#2a2a2a" textLength="3.7" lengthAdjust="spacingAndGlyphs">10</text>
<text x="391.6" y="33.4" font-size="2.4" font-family="'Liberation Serif', serif" fill="#2a2a2a">2</text>
<line x1="395.9" y1="34.3" x2="396.9" y2="34.3" stroke="#555" stroke-width="0.5"/>
<text x="387.6" y="46.8" font-size="3.2" font-family="'Liberation Serif', serif" fill="#2a2a2a" textLength="3.7" lengthAdjust="spacingAndGlyphs">10</text>
<text x="391.6" y="44.7" font-size="2.4" font-family="'Liberation Serif', serif" fill="#2a2a2a">1</text>
<line x1="395.9" y1="45.6" x2="396.9" y2="45.6" stroke="#555" stroke-width="0.5"/>
<text x="387.6" y="58.1" font-size="3.2" font-family="'Liberation Serif', serif" fill="#2a2a2a" textLength="3.7" lengthAdjust="spacingAndGlyphs">10</text>
<text x="391.6" y="56.0" font-size="2.4" font-family="'Liberation Serif', serif" fill="#2a2a2a">0</text>
<line x1="395.9" y1="56.9" x2="396.9" y2="56.9" stroke="#555" stroke-width="0.5"/>
<text x="393.7" y="61.1" font-size="3.4" font-family="'Liberation Serif', serif" fill="#2a2a2a" textLength="3.6" lengthAdjust="spacingAndGlyphs">10</text>
<text x="397.4" y="59.1" font-size="2.4" font-family="'Liberation Serif', serif" fill="#2a2a2a">0</text>
<text x="409.0" y="61.1" font-size="3.4" font-family="'Liberation Serif', serif" fill="#2a2a2a" textLength="3.6" lengthAdjust="spacingAndGlyphs">10</text>
<text x="412.7" y="59.1" font-size="2.4" font-family="'Liberation Serif', serif" fill="#2a2a2a">1</text>
<text x="424.2" y="61.1" font-size="3.4" font-family="'Liberation Serif', serif" fill="#2a2a2a" textLength="3.6" lengthAdjust="spacingAndGlyphs">10</text>
<text x="427.9" y="59.1" font-size="2.4" font-family="'Liberation Serif', serif" fill="#2a2a2a">2</text>
<text x="439.5" y="61.1" font-size="3.4" font-family="'Liberation Serif', serif" fill="#2a2a2a" textLength="3.6" lengthAdjust="spacingAndGlyphs">10</text>
<text x="443.2" y="59.1" font-size="2.4" font-family="'Liberation Serif', serif" fill="#2a2a2a">3</text>
<text x="454.8" y="61.1" font-size="3.4" font-family="'Liberation Serif', serif" fill="#2a2a2a" textLength="3.6" lengthAdjust="spacingAndGlyphs">10</text>
<text x="458.5" y="59.1" font-size="2.4" font-family="'Liberation Serif', serif" fill="#2a2a2a">4</text>
<defs><filter id="f5" x="-50%" y="-50%" width="200%" height="200%"><feGaussianBlur stdDeviation="1.0"/></filter><clipPath id="c5"><rect x="396.4" y="12.3" width="60.10000000000002" height="44.099999999999994"/></clipPath></defs>
<g clip-path="url(#c5)"><g filter="url(#f5)">
<polygon points="396.0,12.0 424.0,12.0 430.0,28.0 430.0,56.0 410.0,56.0 398.0,50.0 396.0,40.0" fill="#c8d4f4" fill-opacity="0.9"/>
<polygon points="396.0,13.0 420.0,14.0 426.0,28.0 425.0,45.0 416.0,52.0 404.0,44.0 396.0,40.0" fill="#9cb6f0" fill-opacity="0.9"/>
<polygon points="396.0,13.0 412.0,13.0 413.0,28.0 407.0,38.0 396.0,38.0" fill="#48c0d8" fill-opacity="1"/>
<polygon points="396.5,13.5 410.0,13.5 410.0,25.0 405.0,32.0 396.5,32.0" fill="#40d868" fill-opacity="1"/>
<ellipse cx="401.0" cy="17.0" rx="4.0" ry="3.0" transform="rotate(0 401.0 17.0)" fill="#d0e840" fill-opacity="1"/>
</g></g>
<rect x="409.4" y="14.0" width="15.9" height="25.4" fill="none" stroke="#d070d8" stroke-width="0.6" stroke-dasharray="0.8,0.5"/>
<rect x="409.4" y="39.4" width="15.9" height="17.2" fill="none" stroke="#d070d8" stroke-width="0.6" stroke-dasharray="0.8,0.5"/>
<text x="397.3" y="17.4" font-size="6.6" font-weight="bold" font-family="'Liberation Serif', serif" fill="#000" stroke="#000" stroke-width="0.28" textLength="12.1" lengthAdjust="spacingAndGlyphs">70.6</text>
<text x="425.8" y="30.4" font-size="7" font-weight="bold" font-family="'Liberation Serif', serif" fill="#000" stroke="#000" stroke-width="0.30" textLength="11.6" lengthAdjust="spacingAndGlyphs">16.4</text>
<text x="427.6" y="50.3" font-size="7" font-weight="bold" font-family="'Liberation Serif', serif" fill="#000" stroke="#000" stroke-width="0.30" textLength="8.1" lengthAdjust="spacingAndGlyphs">5.4</text>
<rect x="395.3" y="65.8" width="62.3" height="47.7" fill="#fff" stroke="#777" stroke-width="0.8"/>
<text x="387.0" y="67.0" font-size="3.2" font-family="'Liberation Serif', serif" fill="#2a2a2a" textLength="3.7" lengthAdjust="spacingAndGlyphs">10</text>
<text x="391.0" y="64.9" font-size="2.4" font-family="'Liberation Serif', serif" fill="#2a2a2a">4</text>
<line x1="395.3" y1="65.8" x2="396.3" y2="65.8" stroke="#555" stroke-width="0.5"/>
<text x="387.0" y="78.9" font-size="3.2" font-family="'Liberation Serif', serif" fill="#2a2a2a" textLength="3.7" lengthAdjust="spacingAndGlyphs">10</text>
<text x="391.0" y="76.8" font-size="2.4" font-family="'Liberation Serif', serif" fill="#2a2a2a">3</text>
<line x1="395.3" y1="77.7" x2="396.3" y2="77.7" stroke="#555" stroke-width="0.5"/>
<text x="387.0" y="90.9" font-size="3.2" font-family="'Liberation Serif', serif" fill="#2a2a2a" textLength="3.7" lengthAdjust="spacingAndGlyphs">10</text>
<text x="391.0" y="88.8" font-size="2.4" font-family="'Liberation Serif', serif" fill="#2a2a2a">2</text>
<line x1="395.3" y1="89.7" x2="396.3" y2="89.7" stroke="#555" stroke-width="0.5"/>
<text x="387.0" y="102.8" font-size="3.2" font-family="'Liberation Serif', serif" fill="#2a2a2a" textLength="3.7" lengthAdjust="spacingAndGlyphs">10</text>
<text x="391.0" y="100.7" font-size="2.4" font-family="'Liberation Serif', serif" fill="#2a2a2a">1</text>
<line x1="395.3" y1="101.6" x2="396.3" y2="101.6" stroke="#555" stroke-width="0.5"/>
<text x="387.0" y="114.7" font-size="3.2" font-family="'Liberation Serif', serif" fill="#2a2a2a" textLength="3.7" lengthAdjust="spacingAndGlyphs">10</text>
<text x="391.0" y="112.6" font-size="2.4" font-family="'Liberation Serif', serif" fill="#2a2a2a">0</text>
<line x1="395.3" y1="113.5" x2="396.3" y2="113.5" stroke="#555" stroke-width="0.5"/>
<text x="393.1" y="117.7" font-size="3.4" font-family="'Liberation Serif', serif" fill="#2a2a2a" textLength="3.6" lengthAdjust="spacingAndGlyphs">10</text>
<text x="396.8" y="115.7" font-size="2.4" font-family="'Liberation Serif', serif" fill="#2a2a2a">0</text>
<text x="408.7" y="117.7" font-size="3.4" font-family="'Liberation Serif', serif" fill="#2a2a2a" textLength="3.6" lengthAdjust="spacingAndGlyphs">10</text>
<text x="412.4" y="115.7" font-size="2.4" font-family="'Liberation Serif', serif" fill="#2a2a2a">1</text>
<text x="424.3" y="117.7" font-size="3.4" font-family="'Liberation Serif', serif" fill="#2a2a2a" textLength="3.6" lengthAdjust="spacingAndGlyphs">10</text>
<text x="428.0" y="115.7" font-size="2.4" font-family="'Liberation Serif', serif" fill="#2a2a2a">2</text>
<text x="439.8" y="117.7" font-size="3.4" font-family="'Liberation Serif', serif" fill="#2a2a2a" textLength="3.6" lengthAdjust="spacingAndGlyphs">10</text>
<text x="443.5" y="115.7" font-size="2.4" font-family="'Liberation Serif', serif" fill="#2a2a2a">3</text>
<text x="455.4" y="117.7" font-size="3.4" font-family="'Liberation Serif', serif" fill="#2a2a2a" textLength="3.6" lengthAdjust="spacingAndGlyphs">10</text>
<text x="459.1" y="115.7" font-size="2.4" font-family="'Liberation Serif', serif" fill="#2a2a2a">4</text>
<defs><filter id="f6" x="-50%" y="-50%" width="200%" height="200%"><feGaussianBlur stdDeviation="1.0"/></filter><clipPath id="c6"><rect x="395.8" y="66.3" width="61.30000000000001" height="46.7"/></clipPath></defs>
<g clip-path="url(#c6)"><g filter="url(#f6)">
<polygon points="396.0,66.0 420.0,66.0 428.0,80.0 428.0,95.0 422.0,112.0 402.0,112.0 396.0,98.0" fill="#c8d4f4" fill-opacity="0.9"/>
<polygon points="396.0,67.0 418.0,67.0 423.0,78.0 422.0,92.0 419.0,112.0 404.0,112.0 402.0,95.0 396.0,90.0" fill="#9cb6f0" fill-opacity="0.9"/>
<polygon points="396.0,67.0 414.0,67.0 416.0,77.0 410.0,82.0 396.0,82.0" fill="#48c0d0" fill-opacity="1"/>
<ellipse cx="416.5" cy="86.0" rx="4.0" ry="6.5" transform="rotate(0 416.5 86.0)" fill="#48c0d0" fill-opacity="1"/>
<ellipse cx="403.0" cy="75.0" rx="6.0" ry="4.0" transform="rotate(0 403.0 75.0)" fill="#50d080" fill-opacity="1"/>
<ellipse cx="416.5" cy="86.0" rx="2.2" ry="3.5" transform="rotate(0 416.5 86.0)" fill="#60d090" fill-opacity="1"/>
</g></g>
<rect x="408.5" y="67.0" width="17.1" height="28.9" fill="none" stroke="#d070d8" stroke-width="0.6" stroke-dasharray="0.8,0.5"/>
<rect x="395.6" y="95.9" width="30.0" height="17.3" fill="none" stroke="#d070d8" stroke-width="0.6" stroke-dasharray="0.8,0.5"/>
<text x="398.2" y="71.4" font-size="7" font-weight="bold" font-family="'Liberation Serif', serif" fill="#000" stroke="#000" stroke-width="0.30" textLength="6.8" lengthAdjust="spacingAndGlyphs">56</text>
<text x="425.6" y="86.9" font-size="7" font-weight="bold" font-family="'Liberation Serif', serif" fill="#000" stroke="#000" stroke-width="0.30" textLength="12.4" lengthAdjust="spacingAndGlyphs">37.1</text>
<text x="426.8" y="108.5" font-size="7" font-weight="bold" font-family="'Liberation Serif', serif" fill="#000" stroke="#000" stroke-width="0.30" textLength="11.2" lengthAdjust="spacingAndGlyphs">10.4</text>
<text x="459.3" y="56.4" font-size="6.18" font-weight="bold" font-family="'Liberation Serif', serif" fill="#000" stroke="#000" stroke-width="0.26" textLength="25.2" lengthAdjust="spacingAndGlyphs">small pre</text>
<text x="459.3" y="64.0" font-size="6.17" font-weight="bold" font-family="'Liberation Serif', serif" fill="#000" stroke="#000" stroke-width="0.26" textLength="26.7" lengthAdjust="spacingAndGlyphs">immature</text>
<text x="459.3" y="71.6" font-size="6.11" font-weight="bold" font-family="'Liberation Serif', serif" fill="#000" stroke="#000" stroke-width="0.26" textLength="25.2" lengthAdjust="spacingAndGlyphs">mature B</text>
<text x="491.7" y="56.2" font-size="6.14" font-weight="bold" font-family="'Liberation Serif', serif" fill="#000" stroke="#000" stroke-width="0.26" textLength="20.9" lengthAdjust="spacingAndGlyphs">late pro</text>
<text x="491.7" y="63.8" font-size="6.14" font-weight="bold" font-family="'Liberation Serif', serif" fill="#000" stroke="#000" stroke-width="0.26" textLength="26.7" lengthAdjust="spacingAndGlyphs">Large pre</text>
<text x="491.7" y="71.4" font-size="6.19" font-weight="bold" font-family="'Liberation Serif', serif" fill="#000" stroke="#000" stroke-width="0.26" textLength="15.3" lengthAdjust="spacingAndGlyphs">B cell</text>
<text x="491.7" y="78.8" font-size="6.25" font-weight="bold" font-family="'Liberation Serif', serif" fill="#000" stroke="#000" stroke-width="0.27" textLength="14.3" lengthAdjust="spacingAndGlyphs">early</text>
<text x="491.7" y="86.4" font-size="6.4" font-weight="bold" font-family="'Liberation Serif', serif" fill="#000" stroke="#000" stroke-width="0.27" textLength="16.8" lengthAdjust="spacingAndGlyphs">pro-B</text>
<text x="491.7" y="94.0" font-size="6.56" font-weight="bold" font-family="'Liberation Serif', serif" fill="#000" stroke="#000" stroke-width="0.28" textLength="10.3" lengthAdjust="spacingAndGlyphs">cell</text>
<line x1="488.4" y1="55.0" x2="488.4" y2="92.5" stroke="#111" stroke-width="1.2"/>
<line x1="462.0" y1="74.3" x2="513.4" y2="74.3" stroke="#111" stroke-width="1.2"/>
<line x1="218.3" y1="144.4" x2="218.3" y2="201.4" stroke="#222" stroke-width="0.8"/>
<line x1="218.3" y1="201.4" x2="287.0" y2="201.4" stroke="#222" stroke-width="0.8"/>
<line x1="217.1" y1="201.4" x2="218.3" y2="201.4" stroke="#222" stroke-width="0.5"/>
<text x="216.4" y="202.6" font-size="3.4" font-weight="bold" font-family="'Liberation Serif', serif" fill="#222" text-anchor="end">0</text>
<line x1="217.1" y1="194.3" x2="218.3" y2="194.3" stroke="#222" stroke-width="0.5"/>
<text x="216.4" y="195.5" font-size="3.4" font-weight="bold" font-family="'Liberation Serif', serif" fill="#222" text-anchor="end">10</text>
<line x1="217.1" y1="187.2" x2="218.3" y2="187.2" stroke="#222" stroke-width="0.5"/>
<text x="216.4" y="188.3" font-size="3.4" font-weight="bold" font-family="'Liberation Serif', serif" fill="#222" text-anchor="end">20</text>
<line x1="217.1" y1="180.0" x2="218.3" y2="180.0" stroke="#222" stroke-width="0.5"/>
<text x="216.4" y="181.2" font-size="3.4" font-weight="bold" font-family="'Liberation Serif', serif" fill="#222" text-anchor="end">30</text>
<line x1="217.1" y1="172.9" x2="218.3" y2="172.9" stroke="#222" stroke-width="0.5"/>
<text x="216.4" y="174.1" font-size="3.4" font-weight="bold" font-family="'Liberation Serif', serif" fill="#222" text-anchor="end">40</text>
<line x1="217.1" y1="165.8" x2="218.3" y2="165.8" stroke="#222" stroke-width="0.5"/>
<text x="216.4" y="167.0" font-size="3.4" font-weight="bold" font-family="'Liberation Serif', serif" fill="#222" text-anchor="end">50</text>
<line x1="217.1" y1="158.7" x2="218.3" y2="158.7" stroke="#222" stroke-width="0.5"/>
<text x="216.4" y="159.8" font-size="3.4" font-weight="bold" font-family="'Liberation Serif', serif" fill="#222" text-anchor="end">60</text>
<line x1="217.1" y1="151.5" x2="218.3" y2="151.5" stroke="#222" stroke-width="0.5"/>
<text x="216.4" y="152.7" font-size="3.4" font-weight="bold" font-family="'Liberation Serif', serif" fill="#222" text-anchor="end">70</text>
<line x1="217.1" y1="144.4" x2="218.3" y2="144.4" stroke="#222" stroke-width="0.5"/>
<text x="216.4" y="145.6" font-size="3.4" font-weight="bold" font-family="'Liberation Serif', serif" fill="#222" text-anchor="end">80</text>
<rect x="222.0" y="146.5" width="6.2" height="54.9" fill="#f41010" stroke="none" stroke-width="1"/>
<line x1="222.0" y1="146.8" x2="228.2" y2="146.8" stroke="#600" stroke-width="0.6"/>
<line x1="227.9" y1="146.5" x2="227.9" y2="201.4" stroke="#a00000" stroke-width="0.5"/>
<line x1="225.1" y1="145.1" x2="225.1" y2="146.5" stroke="#444" stroke-width="0.45"/>
<line x1="224.1" y1="145.1" x2="226.1" y2="145.1" stroke="#444" stroke-width="0.45"/>
<rect x="231.0" y="146.5" width="6.2" height="54.9" fill="#0c0ce0" stroke="none" stroke-width="1"/>
<line x1="231.0" y1="146.8" x2="237.2" y2="146.8" stroke="#000060" stroke-width="0.6"/>
<line x1="236.9" y1="146.5" x2="236.9" y2="201.4" stroke="#000090" stroke-width="0.5"/>
<line x1="234.1" y1="145.1" x2="234.1" y2="146.5" stroke="#444" stroke-width="0.45"/>
<line x1="233.1" y1="145.1" x2="235.1" y2="145.1" stroke="#444" stroke-width="0.45"/>
<rect x="245.6" y="190.5" width="5.7" height="10.9" fill="#f41010" stroke="none" stroke-width="1"/>
<line x1="245.6" y1="190.8" x2="251.3" y2="190.8" stroke="#600" stroke-width="0.6"/>
<line x1="251.0" y1="190.5" x2="251.0" y2="201.4" stroke="#a00000" stroke-width="0.5"/>
<line x1="248.4" y1="188.8" x2="248.4" y2="190.5" stroke="#444" stroke-width="0.45"/>
<line x1="247.4" y1="188.8" x2="249.4" y2="188.8" stroke="#444" stroke-width="0.45"/>
<rect x="254.0" y="190.0" width="6.3" height="11.4" fill="#0c0ce0" stroke="none" stroke-width="1"/>
<line x1="254.0" y1="190.3" x2="260.3" y2="190.3" stroke="#000060" stroke-width="0.6"/>
<line x1="260.0" y1="190.0" x2="260.0" y2="201.4" stroke="#000090" stroke-width="0.5"/>
<line x1="257.1" y1="188.6" x2="257.1" y2="190.0" stroke="#444" stroke-width="0.45"/>
<line x1="256.1" y1="188.6" x2="258.1" y2="188.6" stroke="#444" stroke-width="0.45"/>
<rect x="269.2" y="201.1" width="6.2" height="0.3" fill="#f41010" stroke="none" stroke-width="1"/>
<line x1="269.2" y1="201.4" x2="275.4" y2="201.4" stroke="#600" stroke-width="0.6"/>
<line x1="275.1" y1="201.1" x2="275.1" y2="201.4" stroke="#a00000" stroke-width="0.5"/>
<line x1="272.3" y1="200.7" x2="272.3" y2="201.1" stroke="#444" stroke-width="0.45"/>
<line x1="271.3" y1="200.7" x2="273.3" y2="200.7" stroke="#444" stroke-width="0.45"/>
<rect x="278.2" y="201.1" width="6.2" height="0.3" fill="#0c0ce0" stroke="none" stroke-width="1"/>
<line x1="278.2" y1="201.4" x2="284.4" y2="201.4" stroke="#000060" stroke-width="0.6"/>
<line x1="284.1" y1="201.1" x2="284.1" y2="201.4" stroke="#000090" stroke-width="0.5"/>
<line x1="281.3" y1="200.7" x2="281.3" y2="201.1" stroke="#444" stroke-width="0.45"/>
<line x1="280.3" y1="200.7" x2="282.3" y2="200.7" stroke="#444" stroke-width="0.45"/>
<rect x="267.4" y="146.3" width="3.0" height="3.8" fill="#f41010" stroke="none" stroke-width="1"/>
<text x="271.0" y="150.2" font-size="4.2" font-weight="bold" font-family="'Liberation Serif', serif" fill="#000" stroke="#000" stroke-width="0.16" textLength="5.0" lengthAdjust="spacingAndGlyphs">WT</text>
<rect x="267.4" y="151.6" width="3.0" height="3.8" fill="#0c0ce0" stroke="none" stroke-width="1"/>
<text x="271.0" y="155.4" font-size="4.2" font-weight="bold" font-family="'Liberation Serif', serif" fill="#000" stroke="#000" stroke-width="0.16" textLength="3.6" lengthAdjust="spacingAndGlyphs">KI</text>
<text x="243.0" y="157.0" font-size="3.2" font-weight="normal" font-family="'Liberation Serif', serif" fill="#666" textLength="6.0" lengthAdjust="spacingAndGlyphs">N=5</text>
<text x="243.5" y="176.4" font-size="8.43" font-weight="bold" font-family="'Liberation Serif', serif" fill="#000" stroke="#000" stroke-width="0.36" textLength="36.5" lengthAdjust="spacingAndGlyphs">B220 high</text>
<text stroke="#222" stroke-width="0.23" transform="translate(210.2,190.2) rotate(-90)" x="0" y="0" font-size="5.52" font-weight="bold" font-family="'Liberation Serif', serif" fill="#222" textLength="37.4" lengthAdjust="spacingAndGlyphs">Percentage (%)</text>
<text x="221.0" y="206.0" font-size="4.8" font-weight="bold" font-family="'Liberation Serif', serif" fill="#111" stroke="#111" stroke-width="0.16" textLength="17.8" lengthAdjust="spacingAndGlyphs">Small Pre</text>
<text x="221.0" y="211.2" font-size="4.8" font-weight="bold" font-family="'Liberation Serif', serif" fill="#111" stroke="#111" stroke-width="0.16" textLength="18.3" lengthAdjust="spacingAndGlyphs">Immature</text>
<text x="221.4" y="215.9" font-size="4.8" font-weight="bold" font-family="'Liberation Serif', serif" fill="#111" stroke="#111" stroke-width="0.16" textLength="16.5" lengthAdjust="spacingAndGlyphs">Mature B</text>
<text x="246.2" y="206.0" font-size="4.8" font-weight="bold" font-family="'Liberation Serif', serif" fill="#111" stroke="#111" stroke-width="0.16" textLength="11.6" lengthAdjust="spacingAndGlyphs">Late Pro</text>
<text x="245.1" y="211.2" font-size="4.8" font-weight="bold" font-family="'Liberation Serif', serif" fill="#111" stroke="#111" stroke-width="0.16" textLength="17.0" lengthAdjust="spacingAndGlyphs">Large Pre</text>
<text x="249.1" y="215.9" font-size="4.8" font-weight="bold" font-family="'Liberation Serif', serif" fill="#111" stroke="#111" stroke-width="0.16" textLength="10.9" lengthAdjust="spacingAndGlyphs">B Cell</text>
<text x="268.1" y="206.0" font-size="4.8" font-weight="bold" font-family="'Liberation Serif', serif" fill="#111" stroke="#111" stroke-width="0.16" textLength="18.2" lengthAdjust="spacingAndGlyphs">Early Pro</text>
<text x="269.4" y="211.2" font-size="4.8" font-weight="bold" font-family="'Liberation Serif', serif" fill="#111" stroke="#111" stroke-width="0.16" textLength="10.3" lengthAdjust="spacingAndGlyphs">B Cell</text>
<line x1="301.4" y1="145.3" x2="301.4" y2="200.6" stroke="#222" stroke-width="0.8"/>
<line x1="301.4" y1="200.6" x2="369.0" y2="200.6" stroke="#222" stroke-width="0.8"/>
<line x1="300.2" y1="200.6" x2="301.4" y2="200.6" stroke="#222" stroke-width="0.5"/>
<text x="299.5" y="201.8" font-size="3.4" font-weight="bold" font-family="'Liberation Serif', serif" fill="#222" text-anchor="end">0</text>
<line x1="300.2" y1="192.7" x2="301.4" y2="192.7" stroke="#222" stroke-width="0.5"/>
<text x="299.5" y="193.9" font-size="3.4" font-weight="bold" font-family="'Liberation Serif', serif" fill="#222" text-anchor="end">10</text>
<line x1="300.2" y1="184.8" x2="301.4" y2="184.8" stroke="#222" stroke-width="0.5"/>
<text x="299.5" y="186.0" font-size="3.4" font-weight="bold" font-family="'Liberation Serif', serif" fill="#222" text-anchor="end">20</text>
<line x1="300.2" y1="176.9" x2="301.4" y2="176.9" stroke="#222" stroke-width="0.5"/>
<text x="299.5" y="178.1" font-size="3.4" font-weight="bold" font-family="'Liberation Serif', serif" fill="#222" text-anchor="end">30</text>
<line x1="300.2" y1="169.0" x2="301.4" y2="169.0" stroke="#222" stroke-width="0.5"/>
<text x="299.5" y="170.2" font-size="3.4" font-weight="bold" font-family="'Liberation Serif', serif" fill="#222" text-anchor="end">40</text>
<line x1="300.2" y1="161.1" x2="301.4" y2="161.1" stroke="#222" stroke-width="0.5"/>
<text x="299.5" y="162.3" font-size="3.4" font-weight="bold" font-family="'Liberation Serif', serif" fill="#222" text-anchor="end">50</text>
<line x1="300.2" y1="153.2" x2="301.4" y2="153.2" stroke="#222" stroke-width="0.5"/>
<text x="299.5" y="154.4" font-size="3.4" font-weight="bold" font-family="'Liberation Serif', serif" fill="#222" text-anchor="end">60</text>
<line x1="300.2" y1="145.3" x2="301.4" y2="145.3" stroke="#222" stroke-width="0.5"/>
<text x="299.5" y="146.5" font-size="3.4" font-weight="bold" font-family="'Liberation Serif', serif" fill="#222" text-anchor="end">70</text>
<rect x="304.9" y="149.9" width="6.3" height="50.7" fill="#f41010" stroke="none" stroke-width="1"/>
<line x1="304.9" y1="150.2" x2="311.2" y2="150.2" stroke="#600" stroke-width="0.6"/>
<line x1="310.9" y1="149.9" x2="310.9" y2="200.6" stroke="#a00000" stroke-width="0.5"/>
<line x1="308.0" y1="148.3" x2="308.0" y2="149.9" stroke="#444" stroke-width="0.45"/>
<line x1="307.0" y1="148.3" x2="309.0" y2="148.3" stroke="#444" stroke-width="0.45"/>
<rect x="313.2" y="157.7" width="6.3" height="42.9" fill="#0c0ce0" stroke="none" stroke-width="1"/>
<line x1="313.2" y1="158.0" x2="319.5" y2="158.0" stroke="#000060" stroke-width="0.6"/>
<line x1="319.2" y1="157.7" x2="319.2" y2="200.6" stroke="#000090" stroke-width="0.5"/>
<line x1="316.4" y1="156.1" x2="316.4" y2="157.7" stroke="#444" stroke-width="0.45"/>
<line x1="315.4" y1="156.1" x2="317.4" y2="156.1" stroke="#444" stroke-width="0.45"/>
<rect x="327.9" y="190.3" width="6.3" height="10.3" fill="#f41010" stroke="none" stroke-width="1"/>
<line x1="327.9" y1="190.6" x2="334.2" y2="190.6" stroke="#600" stroke-width="0.6"/>
<line x1="333.9" y1="190.3" x2="333.9" y2="200.6" stroke="#a00000" stroke-width="0.5"/>
<line x1="331.0" y1="189.1" x2="331.0" y2="190.3" stroke="#444" stroke-width="0.45"/>
<line x1="330.0" y1="189.1" x2="332.0" y2="189.1" stroke="#444" stroke-width="0.45"/>
<rect x="336.3" y="188.3" width="6.2" height="12.3" fill="#0c0ce0" stroke="none" stroke-width="1"/>
<line x1="336.3" y1="188.6" x2="342.5" y2="188.6" stroke="#000060" stroke-width="0.6"/>
<line x1="342.2" y1="188.3" x2="342.2" y2="200.6" stroke="#000090" stroke-width="0.5"/>
<line x1="339.4" y1="187.0" x2="339.4" y2="188.3" stroke="#444" stroke-width="0.45"/>
<line x1="338.4" y1="187.0" x2="340.4" y2="187.0" stroke="#444" stroke-width="0.45"/>
<rect x="350.9" y="193.4" width="6.3" height="7.2" fill="#f41010" stroke="none" stroke-width="1"/>
<line x1="350.9" y1="193.7" x2="357.2" y2="193.7" stroke="#600" stroke-width="0.6"/>
<line x1="356.9" y1="193.4" x2="356.9" y2="200.6" stroke="#a00000" stroke-width="0.5"/>
<line x1="354.0" y1="192.5" x2="354.0" y2="193.4" stroke="#444" stroke-width="0.45"/>
<line x1="353.0" y1="192.5" x2="355.0" y2="192.5" stroke="#444" stroke-width="0.45"/>
<rect x="359.3" y="189.7" width="6.2" height="10.9" fill="#0c0ce0" stroke="none" stroke-width="1"/>
<line x1="359.3" y1="190.0" x2="365.5" y2="190.0" stroke="#000060" stroke-width="0.6"/>
<line x1="365.2" y1="189.7" x2="365.2" y2="200.6" stroke="#000090" stroke-width="0.5"/>
<line x1="362.4" y1="188.4" x2="362.4" y2="189.7" stroke="#444" stroke-width="0.45"/>
<line x1="361.4" y1="188.4" x2="363.4" y2="188.4" stroke="#444" stroke-width="0.45"/>
<rect x="348.8" y="147.4" width="3.2" height="3.6" fill="#f41010" stroke="none" stroke-width="1"/>
<text x="352.6" y="151.0" font-size="4.2" font-weight="bold" font-family="'Liberation Serif', serif" fill="#000" stroke="#000" stroke-width="0.16" textLength="5.0" lengthAdjust="spacingAndGlyphs">WT</text>
<rect x="348.8" y="152.6" width="3.2" height="3.6" fill="#0c0ce0" stroke="none" stroke-width="1"/>
<text x="352.6" y="156.2" font-size="4.2" font-weight="bold" font-family="'Liberation Serif', serif" fill="#000" stroke="#000" stroke-width="0.16" textLength="3.8" lengthAdjust="spacingAndGlyphs">KI</text>
<text x="329.0" y="158.4" font-size="3.2" font-weight="normal" font-family="'Liberation Serif', serif" fill="#666" textLength="5.0" lengthAdjust="spacingAndGlyphs">N=5</text>
<text x="323.7" y="175.8" font-size="8.47" font-weight="bold" font-family="'Liberation Serif', serif" fill="#000" stroke="#000" stroke-width="0.36" textLength="33.5" lengthAdjust="spacingAndGlyphs">B220 low</text>
<text x="305.5" y="145.6" font-size="4.2" font-weight="bold" font-family="'Liberation Serif', serif" fill="#000" stroke="#000" stroke-width="0.16" textLength="10.9" lengthAdjust="spacingAndGlyphs">P&lt;0.01</text>
<line x1="306.0" y1="146.3" x2="317.0" y2="146.3" stroke="#4858b0" stroke-width="0.5"/>
<line x1="306.0" y1="146.3" x2="306.0" y2="147.5" stroke="#4858b0" stroke-width="0.5"/>
<line x1="317.0" y1="146.3" x2="317.0" y2="147.5" stroke="#4858b0" stroke-width="0.5"/>
<text x="351.5" y="183.6" font-size="4.2" font-weight="bold" font-family="'Liberation Serif', serif" fill="#000" stroke="#000" stroke-width="0.16" textLength="12.5" lengthAdjust="spacingAndGlyphs">P&lt;0.01</text>
<line x1="352.0" y1="184.3" x2="364.5" y2="184.3" stroke="#4858b0" stroke-width="0.5"/>
<line x1="352.0" y1="184.3" x2="352.0" y2="185.5" stroke="#4858b0" stroke-width="0.5"/>
<line x1="364.5" y1="184.3" x2="364.5" y2="185.5" stroke="#4858b0" stroke-width="0.5"/>
<text x="316.8" y="155.8" font-size="4" font-weight="bold" font-family="'Liberation Serif', serif" fill="#000" stroke="#000" stroke-width="0.16" textLength="1.5" lengthAdjust="spacingAndGlyphs">*</text>
<text x="338.8" y="186.0" font-size="4" font-weight="bold" font-family="'Liberation Serif', serif" fill="#000" stroke="#000" stroke-width="0.16" textLength="1.5" lengthAdjust="spacingAndGlyphs">*</text>
<text x="361.8" y="187.5" font-size="4" font-weight="bold" font-family="'Liberation Serif', serif" fill="#000" stroke="#000" stroke-width="0.16" textLength="1.5" lengthAdjust="spacingAndGlyphs">*</text>
<text stroke="#222" stroke-width="0.16" transform="translate(292.8,190.0) rotate(-90)" x="0" y="0" font-size="5.39" font-weight="bold" font-family="'Liberation Serif', serif" fill="#222" textLength="36.2" lengthAdjust="spacingAndGlyphs">Percentage (%)</text>
<text x="304.7" y="205.8" font-size="4.8" font-weight="bold" font-family="'Liberation Serif', serif" fill="#111" stroke="#111" stroke-width="0.16" textLength="17.3" lengthAdjust="spacingAndGlyphs">Small Pre</text>
<text x="304.7" y="210.8" font-size="4.8" font-weight="bold" font-family="'Liberation Serif', serif" fill="#111" stroke="#111" stroke-width="0.16" textLength="17.8" lengthAdjust="spacingAndGlyphs">Immature</text>
<text x="305.2" y="215.5" font-size="4.8" font-weight="bold" font-family="'Liberation Serif', serif" fill="#111" stroke="#111" stroke-width="0.16" textLength="16.5" lengthAdjust="spacingAndGlyphs">Mature B</text>
<text x="329.4" y="205.8" font-size="4.8" font-weight="bold" font-family="'Liberation Serif', serif" fill="#111" stroke="#111" stroke-width="0.16" textLength="10.8" lengthAdjust="spacingAndGlyphs">Late Pro</text>
<text x="327.2" y="210.8" font-size="4.8" font-weight="bold" font-family="'Liberation Serif', serif" fill="#111" stroke="#111" stroke-width="0.16" textLength="17.3" lengthAdjust="spacingAndGlyphs">Large Pro</text>
<text x="331.5" y="215.5" font-size="4.8" font-weight="bold" font-family="'Liberation Serif', serif" fill="#111" stroke="#111" stroke-width="0.16" textLength="10.4" lengthAdjust="spacingAndGlyphs">B Cell</text>
<text x="351.4" y="205.8" font-size="4.8" font-weight="bold" font-family="'Liberation Serif', serif" fill="#111" stroke="#111" stroke-width="0.16" textLength="16.8" lengthAdjust="spacingAndGlyphs">Early Pro</text>
<text x="352.3" y="210.8" font-size="4.8" font-weight="bold" font-family="'Liberation Serif', serif" fill="#111" stroke="#111" stroke-width="0.16" textLength="8.7" lengthAdjust="spacingAndGlyphs">B Cell</text>
<text x="424.6" y="139.2" font-size="8.68" font-weight="bold" font-family="'Liberation Serif', serif" fill="#000" stroke="#000" stroke-width="0.37" textLength="50.8" lengthAdjust="spacingAndGlyphs">Bone Marrow</text>
<line x1="380.6" y1="153.5" x2="380.6" y2="209.0" stroke="#222" stroke-width="1.2"/>
<polygon points="380.6,150.0 378.6,154.0 382.6,154.0" fill="#222"/>
<text stroke="#000" stroke-width="0.30" transform="translate(376.7,191.5) rotate(-90)" x="0" y="0" font-size="7.01" font-weight="bold" font-family="'Liberation Serif', serif" fill="#000" textLength="30.5" lengthAdjust="spacingAndGlyphs">% of Max</text>
<rect x="387.3" y="144.4" width="57.2" height="58.6" fill="#fff" stroke="#777" stroke-width="0.8"/>
<text x="386.5" y="147.9" font-size="2.8" font-weight="normal" font-family="'Liberation Serif', serif" fill="#555" text-anchor="end">100</text>
<text x="386.5" y="159.1" font-size="2.8" font-weight="normal" font-family="'Liberation Serif', serif" fill="#555" text-anchor="end">80</text>
<text x="386.5" y="170.3" font-size="2.8" font-weight="normal" font-family="'Liberation Serif', serif" fill="#555" text-anchor="end">60</text>
<text x="386.5" y="181.6" font-size="2.8" font-weight="normal" font-family="'Liberation Serif', serif" fill="#555" text-anchor="end">40</text>
<text x="386.5" y="192.8" font-size="2.8" font-weight="normal" font-family="'Liberation Serif', serif" fill="#555" text-anchor="end">20</text>
<text x="386.5" y="204.0" font-size="2.8" font-weight="normal" font-family="'Liberation Serif', serif" fill="#555" text-anchor="end">0</text>
<text x="385.1" y="207.7" font-size="3.4" font-family="'Liberation Serif', serif" fill="#2a2a2a" textLength="3.6" lengthAdjust="spacingAndGlyphs">10</text>
<text x="388.8" y="205.7" font-size="2.4" font-family="'Liberation Serif', serif" fill="#2a2a2a">0</text>
<text x="399.4" y="207.7" font-size="3.4" font-family="'Liberation Serif', serif" fill="#2a2a2a" textLength="3.6" lengthAdjust="spacingAndGlyphs">10</text>
<text x="403.1" y="205.7" font-size="2.4" font-family="'Liberation Serif', serif" fill="#2a2a2a">1</text>
<text x="413.7" y="207.7" font-size="3.4" font-family="'Liberation Serif', serif" fill="#2a2a2a" textLength="3.6" lengthAdjust="spacingAndGlyphs">10</text>
<text x="417.4" y="205.7" font-size="2.4" font-family="'Liberation Serif', serif" fill="#2a2a2a">2</text>
<text x="428.0" y="207.7" font-size="3.4" font-family="'Liberation Serif', serif" fill="#2a2a2a" textLength="3.6" lengthAdjust="spacingAndGlyphs">10</text>
<text x="431.7" y="205.7" font-size="2.4" font-family="'Liberation Serif', serif" fill="#2a2a2a">3</text>
<text x="442.3" y="207.7" font-size="3.4" font-family="'Liberation Serif', serif" fill="#2a2a2a" textLength="3.6" lengthAdjust="spacingAndGlyphs">10</text>
<text x="446.0" y="205.7" font-size="2.4" font-family="'Liberation Serif', serif" fill="#2a2a2a">4</text>
<text x="399.5" y="211.5" font-size="2.44" font-weight="normal" font-family="'Liberation Serif', serif" fill="#888" textLength="14.5" lengthAdjust="spacingAndGlyphs">FL2-H:: CD43</text>
<path d="M387.8,178.0 C388.1,176.3 388.9,172.3 389.5,168.0 C390.1,163.7 390.9,155.5 391.5,152.0 C392.1,148.5 392.5,146.0 393.1,147.0 C393.7,148.0 394.3,152.3 395.0,158.0 C395.7,163.7 396.5,175.9 397.3,181.0 C398.1,186.1 399.1,187.4 399.8,188.4 C400.5,189.4 400.8,187.3 401.5,187.0 C402.2,186.7 403.2,186.3 404.0,186.5 C404.8,186.7 405.2,187.1 406.0,188.0 C406.8,188.9 407.7,190.5 408.5,192.0 C409.3,193.5 410.2,195.3 411.0,197.0 C411.8,198.7 408.0,201.3 413.5,202.2 C419.0,203.1 438.9,202.4 444.0,202.5" fill="none" stroke="#d02020" stroke-width="1.0" stroke-linejoin="round"/>
<path d="M387.8,178.0 C388.1,176.3 388.9,172.3 389.5,168.0 C390.1,163.7 390.9,155.5 391.5,152.0 C392.1,148.5 392.5,146.5 393.1,147.0 C393.7,147.5 394.3,150.8 395.0,155.0 C395.7,159.2 396.6,169.4 397.3,172.2 C398.0,175.0 398.4,172.4 399.0,172.0 C399.6,171.6 400.2,170.1 401.0,170.0 C401.8,169.9 403.0,171.5 404.0,171.5 C405.0,171.5 406.2,169.8 407.0,170.0 C407.8,170.2 408.1,170.5 408.8,172.5 C409.5,174.5 410.3,178.9 411.0,182.0 C411.7,185.1 412.4,188.1 413.0,191.0 C413.6,193.9 414.0,197.6 414.7,199.5 C415.4,201.4 412.3,201.8 417.2,202.3 C422.1,202.8 439.5,202.5 444.0,202.5" fill="none" stroke="#2020b0" stroke-width="1.0" stroke-linejoin="round"/>
<rect x="400.4" y="144.8" width="3.0" height="3.3" fill="#c01010" stroke="none" stroke-width="1"/>
<text x="404.3" y="148.3" font-size="3.6" font-weight="bold" font-family="'Liberation Serif', serif" fill="#000" stroke="#000" stroke-width="0.16" textLength="5.0" lengthAdjust="spacingAndGlyphs">WT</text>
<rect x="400.4" y="150.5" width="3.0" height="3.3" fill="#1010c0" stroke="none" stroke-width="1"/>
<text x="404.3" y="154.0" font-size="3.6" font-weight="bold" font-family="'Liberation Serif', serif" fill="#000" stroke="#000" stroke-width="0.16" textLength="3.7" lengthAdjust="spacingAndGlyphs">KI</text>
<line x1="392.0" y1="215.6" x2="433.5" y2="215.6" stroke="#222" stroke-width="1.2"/>
<polygon points="436.6,215.6 433.0,213.8 433.0,217.4" fill="#222"/>
<text x="409.6" y="223.5" font-size="7.2" font-weight="bold" font-family="'Liberation Serif', serif" fill="#000" stroke="#000" stroke-width="0.31" textLength="17.6" lengthAdjust="spacingAndGlyphs">CD43</text>
<rect x="455.4" y="143.6" width="56.6" height="58.9" fill="#fff" stroke="#777" stroke-width="0.8"/>
<text x="454.6" y="147.1" font-size="2.8" font-weight="normal" font-family="'Liberation Serif', serif" fill="#555" text-anchor="end">100</text>
<text x="454.6" y="158.4" font-size="2.8" font-weight="normal" font-family="'Liberation Serif', serif" fill="#555" text-anchor="end">80</text>
<text x="454.6" y="169.7" font-size="2.8" font-weight="normal" font-family="'Liberation Serif', serif" fill="#555" text-anchor="end">60</text>
<text x="454.6" y="180.9" font-size="2.8" font-weight="normal" font-family="'Liberation Serif', serif" fill="#555" text-anchor="end">40</text>
<text x="454.6" y="192.2" font-size="2.8" font-weight="normal" font-family="'Liberation Serif', serif" fill="#555" text-anchor="end">20</text>
<text x="454.6" y="203.5" font-size="2.8" font-weight="normal" font-family="'Liberation Serif', serif" fill="#555" text-anchor="end">0</text>
<text transform="translate(453.7,168.5) rotate(-90)" x="0" y="0" font-size="2.88" font-weight="normal" font-family="'Liberation Serif', serif" fill="#999" textLength="12.5" lengthAdjust="spacingAndGlyphs">% of Max</text>
<text x="453.2" y="207.7" font-size="3.4" font-family="'Liberation Serif', serif" fill="#2a2a2a" textLength="3.6" lengthAdjust="spacingAndGlyphs">10</text>
<text x="456.9" y="205.7" font-size="2.4" font-family="'Liberation Serif', serif" fill="#2a2a2a">0</text>
<text x="467.3" y="207.7" font-size="3.4" font-family="'Liberation Serif', serif" fill="#2a2a2a" textLength="3.6" lengthAdjust="spacingAndGlyphs">10</text>
<text x="471.0" y="205.7" font-size="2.4" font-family="'Liberation Serif', serif" fill="#2a2a2a">1</text>
<text x="481.5" y="207.7" font-size="3.4" font-family="'Liberation Serif', serif" fill="#2a2a2a" textLength="3.6" lengthAdjust="spacingAndGlyphs">10</text>
<text x="485.2" y="205.7" font-size="2.4" font-family="'Liberation Serif', serif" fill="#2a2a2a">2</text>
<text x="495.7" y="207.7" font-size="3.4" font-family="'Liberation Serif', serif" fill="#2a2a2a" textLength="3.6" lengthAdjust="spacingAndGlyphs">10</text>
<text x="499.4" y="205.7" font-size="2.4" font-family="'Liberation Serif', serif" fill="#2a2a2a">3</text>
<text x="509.8" y="207.7" font-size="3.4" font-family="'Liberation Serif', serif" fill="#2a2a2a" textLength="3.6" lengthAdjust="spacingAndGlyphs">10</text>
<text x="513.5" y="205.7" font-size="2.4" font-family="'Liberation Serif', serif" fill="#2a2a2a">4</text>
<text x="468.0" y="211.5" font-size="2.26" font-weight="normal" font-family="'Liberation Serif', serif" fill="#888" textLength="13.0" lengthAdjust="spacingAndGlyphs">FL2-H:: CD24</text>
<path d="M455.8,202.0 C456.5,201.6 458.5,200.4 460.0,199.5 C461.5,198.6 463.4,197.2 464.8,196.5 C466.2,195.8 467.2,195.6 468.5,195.0 C469.8,194.4 470.8,194.3 472.3,193.0 C473.8,191.7 475.4,189.3 477.3,187.0 C479.2,184.7 481.6,181.8 483.5,179.0 C485.4,176.2 487.2,172.2 488.4,170.0 C489.6,167.8 489.9,166.7 490.5,166.0 C491.1,165.3 491.6,165.7 492.2,166.0 C492.8,166.3 493.4,168.0 494.0,168.0 C494.6,168.0 495.3,166.5 496.0,166.0 C496.7,165.5 497.8,166.7 498.4,165.0 C499.0,163.3 499.1,158.9 499.5,156.0 C499.9,153.1 500.5,148.2 500.9,147.5 C501.3,146.8 501.6,149.5 502.0,152.0 C502.4,154.5 503.2,160.6 503.4,162.3" fill="none" stroke="#d02020" stroke-width="1.0" stroke-linejoin="round"/>
<path d="M455.8,202.0 C456.5,201.7 458.5,200.8 460.0,200.0 C461.5,199.2 463.4,197.7 464.8,197.0 C466.2,196.3 467.2,196.5 468.5,196.0 C469.8,195.5 470.8,195.3 472.3,194.0 C473.8,192.7 475.4,190.6 477.3,188.4 C479.2,186.2 481.6,184.1 483.5,181.0 C485.4,177.9 487.2,173.5 488.4,169.7 C489.6,165.9 489.8,160.2 490.5,158.0 C491.2,155.8 491.8,156.6 492.5,156.5 C493.2,156.4 494.2,157.8 495.0,157.5 C495.8,157.2 496.3,155.8 497.0,155.0 C497.7,154.2 498.4,154.3 499.0,153.0 C499.6,151.7 500.4,147.1 500.9,146.9 C501.4,146.7 501.6,149.4 502.0,152.0 C502.4,154.6 502.8,157.3 503.4,162.3 C504.0,167.3 505.0,176.4 505.8,182.0 C506.6,187.6 507.5,192.7 508.3,195.8 C509.1,198.9 510.2,199.8 510.8,200.8 C511.4,201.8 511.5,201.8 511.6,202.0" fill="none" stroke="#2020b0" stroke-width="1.0" stroke-linejoin="round"/>
<rect x="463.4" y="144.8" width="3.0" height="3.3" fill="#c01010" stroke="none" stroke-width="1"/>
<text x="467.3" y="148.3" font-size="3.6" font-weight="bold" font-family="'Liberation Serif', serif" fill="#000" stroke="#000" stroke-width="0.16" textLength="6.2" lengthAdjust="spacingAndGlyphs">WT</text>
<rect x="463.4" y="150.3" width="3.0" height="3.3" fill="#1010c0" stroke="none" stroke-width="1"/>
<text x="467.3" y="153.8" font-size="3.6" font-weight="bold" font-family="'Liberation Serif', serif" fill="#000" stroke="#000" stroke-width="0.16" textLength="4.2" lengthAdjust="spacingAndGlyphs">KI</text>
<line x1="456.8" y1="215.6" x2="496.9" y2="215.6" stroke="#222" stroke-width="1.2"/>
<polygon points="500.0,215.6 496.4,213.8 496.4,217.4" fill="#222"/>
<text x="474.3" y="223.5" font-size="7.2" font-weight="bold" font-family="'Liberation Serif', serif" fill="#000" stroke="#000" stroke-width="0.31" textLength="17.6" lengthAdjust="spacingAndGlyphs">CD24</text>
<text x="3.9" y="252.6" font-size="10.8" font-weight="bold" font-family="'Liberation Sans', sans-serif" fill="#000" stroke="#000" stroke-width="0.46" textLength="7.9" lengthAdjust="spacingAndGlyphs">C</text>
<text x="66.8" y="241.8" font-size="8.28" font-weight="bold" font-family="'Liberation Serif', serif" fill="#000" stroke="#000" stroke-width="0.35" textLength="23.8" lengthAdjust="spacingAndGlyphs">Spleen</text>
<line x1="13.3" y1="272.5" x2="13.3" y2="371.6" stroke="#222" stroke-width="1.2"/>
<polygon points="13.3,269.0 11.3,273.0 15.3,273.0" fill="#222"/>
<line x1="13.3" y1="371.2" x2="119.1" y2="371.2" stroke="#222" stroke-width="1.2"/>
<polygon points="122.6,371.2 118.6,369.2 118.6,373.2" fill="#222"/>
<text stroke="#000" stroke-width="0.33" transform="translate(12.9,304.7) rotate(-90)" x="0" y="0" font-size="7.8" font-weight="bold" font-family="'Liberation Serif', serif" fill="#000" textLength="17.7" lengthAdjust="spacingAndGlyphs">CD21</text>
<text x="75.4" y="378.2" font-size="8.4" font-weight="bold" font-family="'Liberation Serif', serif" fill="#000" stroke="#000" stroke-width="0.36" textLength="15.0" lengthAdjust="spacingAndGlyphs">IgM</text>
<text x="135.8" y="278.3" font-size="7.6" font-weight="bold" font-family="'Liberation Serif', serif" fill="#000" stroke="#000" stroke-width="0.32" textLength="16.7" lengthAdjust="spacingAndGlyphs">IgD+</text>
<text x="136.6" y="336.5" font-size="7.6" font-weight="bold" font-family="'Liberation Serif', serif" fill="#000" stroke="#000" stroke-width="0.32" textLength="14.6" lengthAdjust="spacingAndGlyphs">IgD-</text>
<rect x="23.0" y="250.4" width="51.5" height="50.8" fill="#fff" stroke="#666" stroke-width="1.0"/>
<text x="14.7" y="251.6" font-size="3.2" font-family="'Liberation Serif', serif" fill="#2a2a2a" textLength="3.7" lengthAdjust="spacingAndGlyphs">10</text>
<text x="18.7" y="249.5" font-size="2.4" font-family="'Liberation Serif', serif" fill="#2a2a2a">4</text>
<line x1="23.0" y1="250.4" x2="24.0" y2="250.4" stroke="#555" stroke-width="0.5"/>
<text x="14.7" y="264.3" font-size="3.2" font-family="'Liberation Serif', serif" fill="#2a2a2a" textLength="3.7" lengthAdjust="spacingAndGlyphs">10</text>
<text x="18.7" y="262.2" font-size="2.4" font-family="'Liberation Serif', serif" fill="#2a2a2a">3</text>
<line x1="23.0" y1="263.1" x2="24.0" y2="263.1" stroke="#555" stroke-width="0.5"/>
<text x="14.7" y="277.0" font-size="3.2" font-family="'Liberation Serif', serif" fill="#2a2a2a" textLength="3.7" lengthAdjust="spacingAndGlyphs">10</text>
<text x="18.7" y="274.9" font-size="2.4" font-family="'Liberation Serif', serif" fill="#2a2a2a">2</text>
<line x1="23.0" y1="275.8" x2="24.0" y2="275.8" stroke="#555" stroke-width="0.5"/>
<text x="14.7" y="289.7" font-size="3.2" font-family="'Liberation Serif', serif" fill="#2a2a2a" textLength="3.7" lengthAdjust="spacingAndGlyphs">10</text>
<text x="18.7" y="287.6" font-size="2.4" font-family="'Liberation Serif', serif" fill="#2a2a2a">1</text>
<line x1="23.0" y1="288.5" x2="24.0" y2="288.5" stroke="#555" stroke-width="0.5"/>
<text x="14.7" y="302.4" font-size="3.2" font-family="'Liberation Serif', serif" fill="#2a2a2a" textLength="3.7" lengthAdjust="spacingAndGlyphs">10</text>
<text x="18.7" y="300.3" font-size="2.4" font-family="'Liberation Serif', serif" fill="#2a2a2a">0</text>
<line x1="23.0" y1="301.2" x2="24.0" y2="301.2" stroke="#555" stroke-width="0.5"/>
<text x="20.8" y="305.6" font-size="3.4" font-family="'Liberation Serif', serif" fill="#2a2a2a" textLength="3.6" lengthAdjust="spacingAndGlyphs">10</text>
<text x="24.5" y="303.6" font-size="2.4" font-family="'Liberation Serif', serif" fill="#2a2a2a">0</text>
<text x="33.7" y="305.6" font-size="3.4" font-family="'Liberation Serif', serif" fill="#2a2a2a" textLength="3.6" lengthAdjust="spacingAndGlyphs">10</text>
<text x="37.4" y="303.6" font-size="2.4" font-family="'Liberation Serif', serif" fill="#2a2a2a">1</text>
<text x="46.5" y="305.6" font-size="3.4" font-family="'Liberation Serif', serif" fill="#2a2a2a" textLength="3.6" lengthAdjust="spacingAndGlyphs">10</text>
<text x="50.2" y="303.6" font-size="2.4" font-family="'Liberation Serif', serif" fill="#2a2a2a">2</text>
<text x="59.4" y="305.6" font-size="3.4" font-family="'Liberation Serif', serif" fill="#2a2a2a" textLength="3.6" lengthAdjust="spacingAndGlyphs">10</text>
<text x="63.1" y="303.6" font-size="2.4" font-family="'Liberation Serif', serif" fill="#2a2a2a">3</text>
<text x="72.3" y="305.6" font-size="3.4" font-family="'Liberation Serif', serif" fill="#2a2a2a" textLength="3.6" lengthAdjust="spacingAndGlyphs">10</text>
<text x="76.0" y="303.6" font-size="2.4" font-family="'Liberation Serif', serif" fill="#2a2a2a">4</text>
<defs><filter id="f7" x="-50%" y="-50%" width="200%" height="200%"><feGaussianBlur stdDeviation="1.0"/></filter><clipPath id="c7"><rect x="23.5" y="250.9" width="50.5" height="49.79999999999998"/></clipPath></defs>
<g clip-path="url(#c7)"><g filter="url(#f7)">
<polygon points="24.0,273.0 35.0,265.0 50.0,258.0 62.0,255.0 69.0,256.0 69.0,268.0 66.0,296.0 55.0,298.0 50.0,292.0 42.0,289.0 30.0,289.0 24.0,286.0" fill="#ccd0f2" fill-opacity="0.95"/>
<polygon points="27.0,277.0 40.0,267.0 55.0,260.0 66.0,258.0 67.0,268.0 64.0,293.0 57.0,293.0 50.0,286.0 36.0,284.0 29.0,283.0" fill="#96a2ea" fill-opacity="0.95"/>
<ellipse cx="46.0" cy="273.0" rx="12.0" ry="6.0" transform="rotate(-22 46.0 273.0)" fill="#7280e0" fill-opacity="0.95"/>
<ellipse cx="59.0" cy="280.0" rx="4.2" ry="10.0" transform="rotate(0 59.0 280.0)" fill="#8894e4" fill-opacity="0.95"/>
<ellipse cx="52.0" cy="267.0" rx="7.0" ry="3.2" transform="rotate(-20 52.0 267.0)" fill="#6674dc" fill-opacity="0.9"/>
<ellipse cx="56.0" cy="263.0" rx="6.5" ry="2.4" transform="rotate(-10 56.0 263.0)" fill="#8a9878" fill-opacity="0.95"/>
<ellipse cx="57.5" cy="262.6" rx="3.8" ry="1.4" transform="rotate(-10 57.5 262.6)" fill="#a8a048" fill-opacity="1"/>
</g></g>
<path d="M52.2,252.6 H64.7 V293.4 H52.2 Z" fill="none" stroke="#e080e0" stroke-width="0.5"/>
<line x1="49.3" y1="269.2" x2="64.7" y2="269.2" stroke="#e080e0" stroke-width="0.5"/>
<path d="M33.9,259 H52.2" fill="none" stroke="#e080e0" stroke-width="0.5"/>
<text x="25.1" y="258.8" font-size="9.8" font-weight="bold" font-family="'Liberation Serif', serif" fill="#000" stroke="#000" stroke-width="0.42" textLength="13.5" lengthAdjust="spacingAndGlyphs">WT</text>
<text x="30.5" y="267.4" font-size="5.2" font-weight="bold" font-family="'Liberation Serif', serif" fill="#000" stroke="#000" stroke-width="0.16" textLength="4.5" lengthAdjust="spacingAndGlyphs">M</text>
<text x="28.5" y="273.3" font-size="5.6" font-weight="bold" font-family="'Liberation Serif', serif" fill="#000" stroke="#000" stroke-width="0.24" textLength="9.8" lengthAdjust="spacingAndGlyphs">37.3</text>
<text x="64.8" y="259.6" font-size="5.2" font-weight="bold" font-family="'Liberation Serif', serif" fill="#000" stroke="#000" stroke-width="0.16" textLength="4.9" lengthAdjust="spacingAndGlyphs">T2</text>
<text x="62.9" y="266.0" font-size="5.6" font-weight="bold" font-family="'Liberation Serif', serif" fill="#000" stroke="#000" stroke-width="0.24" textLength="9.4" lengthAdjust="spacingAndGlyphs">23.4</text>
<text x="65.8" y="280.5" font-size="5.2" font-weight="bold" font-family="'Liberation Serif', serif" fill="#000" stroke="#000" stroke-width="0.16" textLength="4.5" lengthAdjust="spacingAndGlyphs">T1</text>
<text x="63.9" y="286.0" font-size="5.6" font-weight="bold" font-family="'Liberation Serif', serif" fill="#000" stroke="#000" stroke-width="0.24" textLength="8.8" lengthAdjust="spacingAndGlyphs">22.5</text>
<rect x="23.0" y="310.3" width="51.5" height="51.7" fill="#fff" stroke="#666" stroke-width="1.0"/>
<text x="14.7" y="311.5" font-size="3.2" font-family="'Liberation Serif', serif" fill="#2a2a2a" textLength="3.7" lengthAdjust="spacingAndGlyphs">10</text>
<text x="18.7" y="309.4" font-size="2.4" font-family="'Liberation Serif', serif" fill="#2a2a2a">4</text>
<line x1="23.0" y1="310.3" x2="24.0" y2="310.3" stroke="#555" stroke-width="0.5"/>
<text x="14.7" y="324.4" font-size="3.2" font-family="'Liberation Serif', serif" fill="#2a2a2a" textLength="3.7" lengthAdjust="spacingAndGlyphs">10</text>
<text x="18.7" y="322.3" font-size="2.4" font-family="'Liberation Serif', serif" fill="#2a2a2a">3</text>
<line x1="23.0" y1="323.2" x2="24.0" y2="323.2" stroke="#555" stroke-width="0.5"/>
<text x="14.7" y="337.3" font-size="3.2" font-family="'Liberation Serif', serif" fill="#2a2a2a" textLength="3.7" lengthAdjust="spacingAndGlyphs">10</text>
<text x="18.7" y="335.2" font-size="2.4" font-family="'Liberation Serif', serif" fill="#2a2a2a">2</text>
<line x1="23.0" y1="336.1" x2="24.0" y2="336.1" stroke="#555" stroke-width="0.5"/>
<text x="14.7" y="350.3" font-size="3.2" font-family="'Liberation Serif', serif" fill="#2a2a2a" textLength="3.7" lengthAdjust="spacingAndGlyphs">10</text>
<text x="18.7" y="348.2" font-size="2.4" font-family="'Liberation Serif', serif" fill="#2a2a2a">1</text>
<line x1="23.0" y1="349.1" x2="24.0" y2="349.1" stroke="#555" stroke-width="0.5"/>
<text x="14.7" y="363.2" font-size="3.2" font-family="'Liberation Serif', serif" fill="#2a2a2a" textLength="3.7" lengthAdjust="spacingAndGlyphs">10</text>
<text x="18.7" y="361.1" font-size="2.4" font-family="'Liberation Serif', serif" fill="#2a2a2a">0</text>
<line x1="23.0" y1="362.0" x2="24.0" y2="362.0" stroke="#555" stroke-width="0.5"/>
<text x="20.8" y="366.4" font-size="3.4" font-family="'Liberation Serif', serif" fill="#2a2a2a" textLength="3.6" lengthAdjust="spacingAndGlyphs">10</text>
<text x="24.5" y="364.4" font-size="2.4" font-family="'Liberation Serif', serif" fill="#2a2a2a">0</text>
<text x="33.7" y="366.4" font-size="3.4" font-family="'Liberation Serif', serif" fill="#2a2a2a" textLength="3.6" lengthAdjust="spacingAndGlyphs">10</text>
<text x="37.4" y="364.4" font-size="2.4" font-family="'Liberation Serif', serif" fill="#2a2a2a">1</text>
<text x="46.5" y="366.4" font-size="3.4" font-family="'Liberation Serif', serif" fill="#2a2a2a" textLength="3.6" lengthAdjust="spacingAndGlyphs">10</text>
<text x="50.2" y="364.4" font-size="2.4" font-family="'Liberation Serif', serif" fill="#2a2a2a">2</text>
<text x="59.4" y="366.4" font-size="3.4" font-family="'Liberation Serif', serif" fill="#2a2a2a" textLength="3.6" lengthAdjust="spacingAndGlyphs">10</text>
<text x="63.1" y="364.4" font-size="2.4" font-family="'Liberation Serif', serif" fill="#2a2a2a">3</text>
<text x="72.3" y="366.4" font-size="3.4" font-family="'Liberation Serif', serif" fill="#2a2a2a" textLength="3.6" lengthAdjust="spacingAndGlyphs">10</text>
<text x="76.0" y="364.4" font-size="2.4" font-family="'Liberation Serif', serif" fill="#2a2a2a">4</text>
<defs><filter id="f8" x="-50%" y="-50%" width="200%" height="200%"><feGaussianBlur stdDeviation="0.9"/></filter><clipPath id="c8"><rect x="23.5" y="310.8" width="50.5" height="50.69999999999999"/></clipPath></defs>
<g clip-path="url(#c8)"><g filter="url(#f8)">
<polygon points="23.0,322.0 38.0,320.0 52.0,326.0 70.0,332.0 70.0,360.0 23.0,362.0" fill="#d4d8f6" fill-opacity="0.95"/>
<polygon points="23.0,330.0 34.0,328.0 48.0,332.0 54.0,342.0 50.0,362.0 23.0,362.0" fill="#8c9aec" fill-opacity="0.95"/>
<polygon points="23.0,338.0 36.0,336.0 46.0,340.0 48.0,350.0 44.0,362.0 23.0,362.0" fill="#5a6ce8" fill-opacity="0.95"/>
<polygon points="23.0,349.0 32.0,347.0 42.0,346.5 43.0,355.0 42.0,362.0 23.0,362.0" fill="#1c40e8" fill-opacity="1"/>
<ellipse cx="61.5" cy="322.3" rx="5.5" ry="3.6" transform="rotate(0 61.5 322.3)" fill="#6080ee" fill-opacity="0.9"/>
<ellipse cx="61.5" cy="322.3" rx="3.8" ry="2.5" transform="rotate(0 61.5 322.3)" fill="#1840e0" fill-opacity="1"/>
<ellipse cx="31.5" cy="357.0" rx="7.5" ry="5.0" transform="rotate(0 31.5 357.0)" fill="#20c8b0" fill-opacity="1"/>
<ellipse cx="33.0" cy="357.0" rx="4.5" ry="3.0" transform="rotate(0 33.0 357.0)" fill="#b8e828" fill-opacity="1"/>
</g></g>
<path d="M50.7,318 H68.3 V355.6 H50.7 Z" fill="none" stroke="#e080e0" stroke-width="0.5"/>
<line x1="50.7" y1="330.3" x2="68.3" y2="330.3" stroke="#e080e0" stroke-width="0.5"/>
<text x="25.1" y="317.3" font-size="9.6" font-weight="bold" font-family="'Liberation Serif', serif" fill="#000" stroke="#000" stroke-width="0.41" textLength="13.2" lengthAdjust="spacingAndGlyphs">WT</text>
<text x="41.2" y="324.2" font-size="5.2" font-weight="bold" font-family="'Liberation Serif', serif" fill="#000" stroke="#000" stroke-width="0.16" textLength="8.8" lengthAdjust="spacingAndGlyphs">MZ</text>
<text x="40.5" y="329.3" font-size="5.6" font-weight="bold" font-family="'Liberation Serif', serif" fill="#000" stroke="#000" stroke-width="0.24" textLength="9.5" lengthAdjust="spacingAndGlyphs">2.41</text>
<text x="63.9" y="341.8" font-size="5.2" font-weight="bold" font-family="'Liberation Serif', serif" fill="#000" stroke="#000" stroke-width="0.16" textLength="5.1" lengthAdjust="spacingAndGlyphs">T1</text>
<text x="64.7" y="347.9" font-size="5.6" font-weight="bold" font-family="'Liberation Serif', serif" fill="#000" stroke="#000" stroke-width="0.24" textLength="5.8" lengthAdjust="spacingAndGlyphs">2.9</text>
<rect x="83.0" y="250.5" width="50.8" height="50.6" fill="#fff" stroke="#666" stroke-width="1.0"/>
<text x="74.7" y="251.7" font-size="3.2" font-family="'Liberation Serif', serif" fill="#2a2a2a" textLength="3.7" lengthAdjust="spacingAndGlyphs">10</text>
<text x="78.7" y="249.6" font-size="2.4" font-family="'Liberation Serif', serif" fill="#2a2a2a">4</text>
<line x1="83.0" y1="250.5" x2="84.0" y2="250.5" stroke="#555" stroke-width="0.5"/>
<text x="74.7" y="264.3" font-size="3.2" font-family="'Liberation Serif', serif" fill="#2a2a2a" textLength="3.7" lengthAdjust="spacingAndGlyphs">10</text>
<text x="78.7" y="262.2" font-size="2.4" font-family="'Liberation Serif', serif" fill="#2a2a2a">3</text>
<line x1="83.0" y1="263.1" x2="84.0" y2="263.1" stroke="#555" stroke-width="0.5"/>
<text x="74.7" y="277.0" font-size="3.2" font-family="'Liberation Serif', serif" fill="#2a2a2a" textLength="3.7" lengthAdjust="spacingAndGlyphs">10</text>
<text x="78.7" y="274.9" font-size="2.4" font-family="'Liberation Serif', serif" fill="#2a2a2a">2</text>
<line x1="83.0" y1="275.8" x2="84.0" y2="275.8" stroke="#555" stroke-width="0.5"/>
<text x="74.7" y="289.7" font-size="3.2" font-family="'Liberation Serif', serif" fill="#2a2a2a" textLength="3.7" lengthAdjust="spacingAndGlyphs">10</text>
<text x="78.7" y="287.6" font-size="2.4" font-family="'Liberation Serif', serif" fill="#2a2a2a">1</text>
<line x1="83.0" y1="288.5" x2="84.0" y2="288.5" stroke="#555" stroke-width="0.5"/>
<text x="74.7" y="302.3" font-size="3.2" font-family="'Liberation Serif', serif" fill="#2a2a2a" textLength="3.7" lengthAdjust="spacingAndGlyphs">10</text>
<text x="78.7" y="300.2" font-size="2.4" font-family="'Liberation Serif', serif" fill="#2a2a2a">0</text>
<line x1="83.0" y1="301.1" x2="84.0" y2="301.1" stroke="#555" stroke-width="0.5"/>
<text x="80.8" y="305.5" font-size="3.4" font-family="'Liberation Serif', serif" fill="#2a2a2a" textLength="3.6" lengthAdjust="spacingAndGlyphs">10</text>
<text x="84.5" y="303.5" font-size="2.4" font-family="'Liberation Serif', serif" fill="#2a2a2a">0</text>
<text x="93.5" y="305.5" font-size="3.4" font-family="'Liberation Serif', serif" fill="#2a2a2a" textLength="3.6" lengthAdjust="spacingAndGlyphs">10</text>
<text x="97.2" y="303.5" font-size="2.4" font-family="'Liberation Serif', serif" fill="#2a2a2a">1</text>
<text x="106.2" y="305.5" font-size="3.4" font-family="'Liberation Serif', serif" fill="#2a2a2a" textLength="3.6" lengthAdjust="spacingAndGlyphs">10</text>
<text x="109.9" y="303.5" font-size="2.4" font-family="'Liberation Serif', serif" fill="#2a2a2a">2</text>
<text x="118.9" y="305.5" font-size="3.4" font-family="'Liberation Serif', serif" fill="#2a2a2a" textLength="3.6" lengthAdjust="spacingAndGlyphs">10</text>
<text x="122.6" y="303.5" font-size="2.4" font-family="'Liberation Serif', serif" fill="#2a2a2a">3</text>
<text x="131.6" y="305.5" font-size="3.4" font-family="'Liberation Serif', serif" fill="#2a2a2a" textLength="3.6" lengthAdjust="spacingAndGlyphs">10</text>
<text x="135.3" y="303.5" font-size="2.4" font-family="'Liberation Serif', serif" fill="#2a2a2a">4</text>
<defs><filter id="f9" x="-50%" y="-50%" width="200%" height="200%"><feGaussianBlur stdDeviation="1.0"/></filter><clipPath id="c9"><rect x="83.5" y="251.0" width="49.80000000000001" height="49.60000000000002"/></clipPath></defs>
<g clip-path="url(#c9)"><g filter="url(#f9)">
<polygon points="84.0,272.0 100.0,263.0 115.0,258.0 130.0,256.0 130.0,270.0 126.0,296.0 118.0,296.0 112.0,287.0 100.0,286.0 88.0,286.0 84.0,284.0" fill="#d2d6f4" fill-opacity="0.95"/>
<polygon points="85.0,277.0 100.0,268.0 115.0,262.0 127.0,260.0 127.0,276.0 112.0,281.0 96.0,282.0 86.0,281.0" fill="#9ca4e8" fill-opacity="0.95"/>
<ellipse cx="105.0" cy="272.0" rx="12.0" ry="5.0" transform="rotate(-20 105.0 272.0)" fill="#7680e0" fill-opacity="0.9"/>
<ellipse cx="100.0" cy="276.0" rx="6.0" ry="2.8" transform="rotate(-15 100.0 276.0)" fill="#6a70dc" fill-opacity="0.9"/>
</g></g>
<path d="M112.2,252.6 H126.9 V293.4 H112.2 Z" fill="none" stroke="#e080e0" stroke-width="0.5"/>
<line x1="108.5" y1="268.5" x2="126.9" y2="268.5" stroke="#e080e0" stroke-width="0.5"/>
<path d="M95.4,259.4 H112.2" fill="none" stroke="#e080e0" stroke-width="0.5"/>
<line x1="88.8" y1="279.5" x2="112.2" y2="279.5" stroke="#a060e0" stroke-width="0.6"/>
<text x="85.1" y="258.8" font-size="9.8" font-weight="bold" font-family="'Liberation Serif', serif" fill="#000" stroke="#000" stroke-width="0.42" textLength="9.5" lengthAdjust="spacingAndGlyphs">KI</text>
<text x="91.0" y="267.9" font-size="5.2" font-weight="bold" font-family="'Liberation Serif', serif" fill="#000" stroke="#000" stroke-width="0.16" textLength="3.8" lengthAdjust="spacingAndGlyphs">M</text>
<text x="88.8" y="273.7" font-size="5.6" font-weight="bold" font-family="'Liberation Serif', serif" fill="#000" stroke="#000" stroke-width="0.24" textLength="8.0" lengthAdjust="spacingAndGlyphs">45.3</text>
<text x="124.7" y="260.5" font-size="5.2" font-weight="bold" font-family="'Liberation Serif', serif" fill="#000" stroke="#000" stroke-width="0.16" textLength="5.1" lengthAdjust="spacingAndGlyphs">T2</text>
<text x="123.2" y="266.0" font-size="5.6" font-weight="bold" font-family="'Liberation Serif', serif" fill="#000" stroke="#000" stroke-width="0.24" textLength="8.8" lengthAdjust="spacingAndGlyphs">16.4</text>
<text x="124.7" y="280.6" font-size="5.2" font-weight="bold" font-family="'Liberation Serif', serif" fill="#000" stroke="#000" stroke-width="0.16" textLength="5.1" lengthAdjust="spacingAndGlyphs">T1</text>
<text x="123.6" y="286.5" font-size="5.6" font-weight="bold" font-family="'Liberation Serif', serif" fill="#000" stroke="#000" stroke-width="0.24" textLength="8.4" lengthAdjust="spacingAndGlyphs">15.2</text>
<rect x="83.2" y="310.8" width="51.4" height="51.3" fill="#fff" stroke="#666" stroke-width="1.0"/>
<text x="74.9" y="312.0" font-size="3.2" font-family="'Liberation Serif', serif" fill="#2a2a2a" textLength="3.7" lengthAdjust="spacingAndGlyphs">10</text>
<text x="78.9" y="309.9" font-size="2.4" font-family="'Liberation Serif', serif" fill="#2a2a2a">4</text>
<line x1="83.2" y1="310.8" x2="84.2" y2="310.8" stroke="#555" stroke-width="0.5"/>
<text x="74.9" y="324.8" font-size="3.2" font-family="'Liberation Serif', serif" fill="#2a2a2a" textLength="3.7" lengthAdjust="spacingAndGlyphs">10</text>
<text x="78.9" y="322.7" font-size="2.4" font-family="'Liberation Serif', serif" fill="#2a2a2a">3</text>
<line x1="83.2" y1="323.6" x2="84.2" y2="323.6" stroke="#555" stroke-width="0.5"/>
<text x="74.9" y="337.7" font-size="3.2" font-family="'Liberation Serif', serif" fill="#2a2a2a" textLength="3.7" lengthAdjust="spacingAndGlyphs">10</text>
<text x="78.9" y="335.6" font-size="2.4" font-family="'Liberation Serif', serif" fill="#2a2a2a">2</text>
<line x1="83.2" y1="336.5" x2="84.2" y2="336.5" stroke="#555" stroke-width="0.5"/>
<text x="74.9" y="350.5" font-size="3.2" font-family="'Liberation Serif', serif" fill="#2a2a2a" textLength="3.7" lengthAdjust="spacingAndGlyphs">10</text>
<text x="78.9" y="348.4" font-size="2.4" font-family="'Liberation Serif', serif" fill="#2a2a2a">1</text>
<line x1="83.2" y1="349.3" x2="84.2" y2="349.3" stroke="#555" stroke-width="0.5"/>
<text x="74.9" y="363.3" font-size="3.2" font-family="'Liberation Serif', serif" fill="#2a2a2a" textLength="3.7" lengthAdjust="spacingAndGlyphs">10</text>
<text x="78.9" y="361.2" font-size="2.4" font-family="'Liberation Serif', serif" fill="#2a2a2a">0</text>
<line x1="83.2" y1="362.1" x2="84.2" y2="362.1" stroke="#555" stroke-width="0.5"/>
<text x="81.0" y="366.5" font-size="3.4" font-family="'Liberation Serif', serif" fill="#2a2a2a" textLength="3.6" lengthAdjust="spacingAndGlyphs">10</text>
<text x="84.7" y="364.5" font-size="2.4" font-family="'Liberation Serif', serif" fill="#2a2a2a">0</text>
<text x="93.8" y="366.5" font-size="3.4" font-family="'Liberation Serif', serif" fill="#2a2a2a" textLength="3.6" lengthAdjust="spacingAndGlyphs">10</text>
<text x="97.5" y="364.5" font-size="2.4" font-family="'Liberation Serif', serif" fill="#2a2a2a">1</text>
<text x="106.7" y="366.5" font-size="3.4" font-family="'Liberation Serif', serif" fill="#2a2a2a" textLength="3.6" lengthAdjust="spacingAndGlyphs">10</text>
<text x="110.4" y="364.5" font-size="2.4" font-family="'Liberation Serif', serif" fill="#2a2a2a">2</text>
<text x="119.5" y="366.5" font-size="3.4" font-family="'Liberation Serif', serif" fill="#2a2a2a" textLength="3.6" lengthAdjust="spacingAndGlyphs">10</text>
<text x="123.2" y="364.5" font-size="2.4" font-family="'Liberation Serif', serif" fill="#2a2a2a">3</text>
<text x="132.4" y="366.5" font-size="3.4" font-family="'Liberation Serif', serif" fill="#2a2a2a" textLength="3.6" lengthAdjust="spacingAndGlyphs">10</text>
<text x="136.1" y="364.5" font-size="2.4" font-family="'Liberation Serif', serif" fill="#2a2a2a">4</text>
<defs><filter id="f10" x="-50%" y="-50%" width="200%" height="200%"><feGaussianBlur stdDeviation="0.9"/></filter><clipPath id="c10"><rect x="83.7" y="311.3" width="50.39999999999999" height="50.30000000000001"/></clipPath></defs>
<g clip-path="url(#c10)"><g filter="url(#f10)">
<polygon points="84.0,320.0 100.0,320.0 112.0,328.0 128.0,336.0 128.0,360.0 84.0,362.0" fill="#d8dcf6" fill-opacity="0.95"/>
<polygon points="84.0,326.0 98.0,325.0 110.0,334.0 110.0,350.0 84.0,352.0" fill="#909eec" fill-opacity="0.95"/>
<polygon points="84.0,336.0 98.0,335.0 105.0,343.0 104.0,352.0 84.0,352.0" fill="#6474e8" fill-opacity="0.9"/>
<polygon points="84.0,349.0 101.0,349.0 102.0,362.0 84.0,362.0" fill="#1a3ce8" fill-opacity="1"/>
<ellipse cx="120.3" cy="326.3" rx="3.8" ry="2.0" transform="rotate(0 120.3 326.3)" fill="#6078e4" fill-opacity="0.95"/>
<ellipse cx="91.5" cy="357.3" rx="6.5" ry="4.3" transform="rotate(0 91.5 357.3)" fill="#20c8b0" fill-opacity="1"/>
<ellipse cx="92.3" cy="358.2" rx="3.6" ry="2.6" transform="rotate(0 92.3 358.2)" fill="#b8e828" fill-opacity="1"/>
</g></g>
<path d="M111.5,318.2 H127.6 V356.3 H111.5 Z" fill="none" stroke="#e080e0" stroke-width="0.5"/>
<line x1="111.5" y1="330.7" x2="127.6" y2="330.7" stroke="#e080e0" stroke-width="0.5"/>
<text x="85.6" y="318.6" font-size="9.6" font-weight="bold" font-family="'Liberation Serif', serif" fill="#000" stroke="#000" stroke-width="0.41" textLength="9.0" lengthAdjust="spacingAndGlyphs">KI</text>
<text x="102.0" y="324.5" font-size="5.2" font-weight="bold" font-family="'Liberation Serif', serif" fill="#000" stroke="#000" stroke-width="0.16" textLength="8.7" lengthAdjust="spacingAndGlyphs">MZ</text>
<text x="102.0" y="329.8" font-size="5.6" font-weight="bold" font-family="'Liberation Serif', serif" fill="#000" stroke="#000" stroke-width="0.24" textLength="9.5" lengthAdjust="spacingAndGlyphs">0.45</text>
<text x="125.4" y="343.2" font-size="5.2" font-weight="bold" font-family="'Liberation Serif', serif" fill="#000" stroke="#000" stroke-width="0.16" textLength="5.1" lengthAdjust="spacingAndGlyphs">T1</text>
<text x="123.9" y="348.8" font-size="5.6" font-weight="bold" font-family="'Liberation Serif', serif" fill="#000" stroke="#000" stroke-width="0.24" textLength="8.8" lengthAdjust="spacingAndGlyphs">0.88</text>
<line x1="169.2" y1="240.0" x2="169.2" y2="301.5" stroke="#222" stroke-width="0.8"/>
<line x1="169.2" y1="301.5" x2="238.0" y2="301.5" stroke="#222" stroke-width="0.8"/>
<line x1="168.0" y1="301.5" x2="169.2" y2="301.5" stroke="#222" stroke-width="0.5"/>
<text x="167.6" y="302.7" font-size="3.6" font-weight="bold" font-family="'Liberation Serif', serif" fill="#222" text-anchor="end">0</text>
<line x1="168.0" y1="289.2" x2="169.2" y2="289.2" stroke="#222" stroke-width="0.5"/>
<text x="167.6" y="290.4" font-size="3.6" font-weight="bold" font-family="'Liberation Serif', serif" fill="#222" text-anchor="end">10</text>
<line x1="168.0" y1="276.9" x2="169.2" y2="276.9" stroke="#222" stroke-width="0.5"/>
<text x="167.6" y="278.1" font-size="3.6" font-weight="bold" font-family="'Liberation Serif', serif" fill="#222" text-anchor="end">20</text>
<line x1="168.0" y1="264.6" x2="169.2" y2="264.6" stroke="#222" stroke-width="0.5"/>
<text x="167.6" y="265.8" font-size="3.6" font-weight="bold" font-family="'Liberation Serif', serif" fill="#222" text-anchor="end">30</text>
<line x1="168.0" y1="252.3" x2="169.2" y2="252.3" stroke="#222" stroke-width="0.5"/>
<text x="167.6" y="253.5" font-size="3.6" font-weight="bold" font-family="'Liberation Serif', serif" fill="#222" text-anchor="end">40</text>
<line x1="168.0" y1="240.0" x2="169.2" y2="240.0" stroke="#222" stroke-width="0.5"/>
<text x="167.6" y="241.2" font-size="3.6" font-weight="bold" font-family="'Liberation Serif', serif" fill="#222" text-anchor="end">50</text>
<rect x="172.6" y="254.8" width="6.3" height="46.7" fill="#f41010" stroke="none" stroke-width="1"/>
<line x1="172.6" y1="255.1" x2="178.9" y2="255.1" stroke="#600" stroke-width="0.6"/>
<line x1="178.6" y1="254.8" x2="178.6" y2="301.5" stroke="#a00000" stroke-width="0.5"/>
<line x1="175.8" y1="252.9" x2="175.8" y2="254.8" stroke="#444" stroke-width="0.45"/>
<line x1="174.8" y1="252.9" x2="176.8" y2="252.9" stroke="#444" stroke-width="0.45"/>
<rect x="181.4" y="246.8" width="6.7" height="54.7" fill="#0c0ce0" stroke="none" stroke-width="1"/>
<line x1="181.4" y1="247.1" x2="188.1" y2="247.1" stroke="#000060" stroke-width="0.6"/>
<line x1="187.8" y1="246.8" x2="187.8" y2="301.5" stroke="#000090" stroke-width="0.5"/>
<line x1="184.8" y1="245.3" x2="184.8" y2="246.8" stroke="#444" stroke-width="0.45"/>
<line x1="183.8" y1="245.3" x2="185.8" y2="245.3" stroke="#444" stroke-width="0.45"/>
<rect x="196.4" y="267.7" width="6.3" height="33.8" fill="#f41010" stroke="none" stroke-width="1"/>
<line x1="196.4" y1="268.0" x2="202.7" y2="268.0" stroke="#600" stroke-width="0.6"/>
<line x1="202.4" y1="267.7" x2="202.4" y2="301.5" stroke="#a00000" stroke-width="0.5"/>
<line x1="199.6" y1="265.5" x2="199.6" y2="267.7" stroke="#444" stroke-width="0.45"/>
<line x1="198.6" y1="265.5" x2="200.6" y2="265.5" stroke="#444" stroke-width="0.45"/>
<rect x="205.4" y="273.8" width="6.3" height="27.7" fill="#0c0ce0" stroke="none" stroke-width="1"/>
<line x1="205.4" y1="274.1" x2="211.7" y2="274.1" stroke="#000060" stroke-width="0.6"/>
<line x1="211.4" y1="273.8" x2="211.4" y2="301.5" stroke="#000090" stroke-width="0.5"/>
<line x1="208.6" y1="272.3" x2="208.6" y2="273.8" stroke="#444" stroke-width="0.45"/>
<line x1="207.6" y1="272.3" x2="209.6" y2="272.3" stroke="#444" stroke-width="0.45"/>
<rect x="220.7" y="277.5" width="6.3" height="24.0" fill="#f41010" stroke="none" stroke-width="1"/>
<line x1="220.7" y1="277.8" x2="227.0" y2="277.8" stroke="#600" stroke-width="0.6"/>
<line x1="226.7" y1="277.5" x2="226.7" y2="301.5" stroke="#a00000" stroke-width="0.5"/>
<line x1="223.8" y1="275.3" x2="223.8" y2="277.5" stroke="#444" stroke-width="0.45"/>
<line x1="222.8" y1="275.3" x2="224.8" y2="275.3" stroke="#444" stroke-width="0.45"/>
<rect x="229.5" y="284.8" width="6.3" height="16.7" fill="#0c0ce0" stroke="none" stroke-width="1"/>
<line x1="229.5" y1="285.1" x2="235.8" y2="285.1" stroke="#000060" stroke-width="0.6"/>
<line x1="235.5" y1="284.8" x2="235.5" y2="301.5" stroke="#000090" stroke-width="0.5"/>
<line x1="232.7" y1="283.3" x2="232.7" y2="284.8" stroke="#444" stroke-width="0.45"/>
<line x1="231.7" y1="283.3" x2="233.7" y2="283.3" stroke="#444" stroke-width="0.45"/>
<rect x="222.2" y="244.2" width="3.1" height="3.6" fill="#f41010" stroke="none" stroke-width="1"/>
<text x="225.7" y="247.9" font-size="4" font-weight="bold" font-family="'Liberation Serif', serif" fill="#000" stroke="#000" stroke-width="0.16" textLength="7.6" lengthAdjust="spacingAndGlyphs">WT</text>
<rect x="222.2" y="249.9" width="3.1" height="3.6" fill="#0c0ce0" stroke="none" stroke-width="1"/>
<text x="225.7" y="253.5" font-size="4" font-weight="bold" font-family="'Liberation Serif', serif" fill="#000" stroke="#000" stroke-width="0.16" textLength="5.3" lengthAdjust="spacingAndGlyphs">KI</text>
<text x="202.3" y="256.9" font-size="4.2" font-weight="normal" font-family="'Liberation Serif', serif" fill="#333" textLength="8.4" lengthAdjust="spacingAndGlyphs">N=5</text>
<text x="174.7" y="240.5" font-size="4.2" font-weight="bold" font-family="'Liberation Serif', serif" fill="#000" stroke="#000" stroke-width="0.16" textLength="10.9" lengthAdjust="spacingAndGlyphs">P&lt;0.01</text>
<line x1="174.5" y1="241.6" x2="186.0" y2="241.6" stroke="#4858b0" stroke-width="0.5"/>
<line x1="174.5" y1="241.6" x2="174.5" y2="242.8" stroke="#4858b0" stroke-width="0.5"/>
<line x1="186.0" y1="241.6" x2="186.0" y2="242.8" stroke="#4858b0" stroke-width="0.5"/>
<text x="222.2" y="271.2" font-size="4.2" font-weight="bold" font-family="'Liberation Serif', serif" fill="#000" stroke="#000" stroke-width="0.16" textLength="12.5" lengthAdjust="spacingAndGlyphs">P&lt;0.01</text>
<line x1="222.0" y1="272.5" x2="235.0" y2="272.5" stroke="#4858b0" stroke-width="0.5"/>
<line x1="222.0" y1="272.5" x2="222.0" y2="273.7" stroke="#4858b0" stroke-width="0.5"/>
<line x1="235.0" y1="272.5" x2="235.0" y2="273.7" stroke="#4858b0" stroke-width="0.5"/>
<text x="184.0" y="246.8" font-size="4" font-weight="bold" font-family="'Liberation Serif', serif" fill="#000" stroke="#000" stroke-width="0.16" textLength="2.0" lengthAdjust="spacingAndGlyphs">*</text>
<text x="231.8" y="283.8" font-size="4" font-weight="bold" font-family="'Liberation Serif', serif" fill="#000" stroke="#000" stroke-width="0.16" textLength="2.0" lengthAdjust="spacingAndGlyphs">*</text>
<text stroke="#222" stroke-width="0.25" transform="translate(159.6,289.2) rotate(-90)" x="0" y="0" font-size="5.88" font-weight="bold" font-family="'Liberation Serif', serif" fill="#222" textLength="40.2" lengthAdjust="spacingAndGlyphs">Percentage (%)</text>
<text x="171.5" y="307.2" font-size="4.8" font-weight="bold" font-family="'Liberation Serif', serif" fill="#000" stroke="#000" stroke-width="0.16" textLength="18.0" lengthAdjust="spacingAndGlyphs">Mature B</text>
<text x="199.6" y="307.2" font-size="4.8" font-weight="bold" font-family="'Liberation Serif', serif" fill="#000" stroke="#000" stroke-width="0.16" textLength="8.7" lengthAdjust="spacingAndGlyphs">T2 B</text>
<text x="223.4" y="307.2" font-size="4.8" font-weight="bold" font-family="'Liberation Serif', serif" fill="#000" stroke="#000" stroke-width="0.16" textLength="9.1" lengthAdjust="spacingAndGlyphs">T1 B</text>
<line x1="181.3" y1="317.1" x2="181.3" y2="373.6" stroke="#222" stroke-width="0.8"/>
<line x1="181.3" y1="373.6" x2="240.0" y2="373.6" stroke="#222" stroke-width="0.8"/>
<line x1="180.1" y1="373.6" x2="181.3" y2="373.6" stroke="#222" stroke-width="0.5"/>
<text x="179.7" y="374.8" font-size="3.6" font-weight="bold" font-family="'Liberation Serif', serif" fill="#222" text-anchor="end">0.0</text>
<line x1="180.1" y1="365.5" x2="181.3" y2="365.5" stroke="#222" stroke-width="0.5"/>
<text x="179.7" y="366.7" font-size="3.6" font-weight="bold" font-family="'Liberation Serif', serif" fill="#222" text-anchor="end">0.5</text>
<line x1="180.1" y1="357.5" x2="181.3" y2="357.5" stroke="#222" stroke-width="0.5"/>
<text x="179.7" y="358.7" font-size="3.6" font-weight="bold" font-family="'Liberation Serif', serif" fill="#222" text-anchor="end">1.0</text>
<line x1="180.1" y1="349.4" x2="181.3" y2="349.4" stroke="#222" stroke-width="0.5"/>
<text x="179.7" y="350.6" font-size="3.6" font-weight="bold" font-family="'Liberation Serif', serif" fill="#222" text-anchor="end">1.5</text>
<line x1="180.1" y1="341.3" x2="181.3" y2="341.3" stroke="#222" stroke-width="0.5"/>
<text x="179.7" y="342.5" font-size="3.6" font-weight="bold" font-family="'Liberation Serif', serif" fill="#222" text-anchor="end">2.0</text>
<line x1="180.1" y1="333.2" x2="181.3" y2="333.2" stroke="#222" stroke-width="0.5"/>
<text x="179.7" y="334.4" font-size="3.6" font-weight="bold" font-family="'Liberation Serif', serif" fill="#222" text-anchor="end">2.5</text>
<line x1="180.1" y1="325.2" x2="181.3" y2="325.2" stroke="#222" stroke-width="0.5"/>
<text x="179.7" y="326.4" font-size="3.6" font-weight="bold" font-family="'Liberation Serif', serif" fill="#222" text-anchor="end">3.0</text>
<line x1="180.1" y1="317.1" x2="181.3" y2="317.1" stroke="#222" stroke-width="0.5"/>
<text x="179.7" y="318.3" font-size="3.6" font-weight="bold" font-family="'Liberation Serif', serif" fill="#222" text-anchor="end">3.5</text>
<rect x="184.3" y="329.9" width="8.5" height="43.7" fill="#f41010" stroke="none" stroke-width="1"/>
<line x1="184.3" y1="330.2" x2="192.8" y2="330.2" stroke="#600" stroke-width="0.6"/>
<line x1="192.5" y1="329.9" x2="192.5" y2="373.6" stroke="#a00000" stroke-width="0.5"/>
<line x1="188.6" y1="327.9" x2="188.6" y2="329.9" stroke="#444" stroke-width="0.45"/>
<line x1="187.6" y1="327.9" x2="189.6" y2="327.9" stroke="#444" stroke-width="0.45"/>
<rect x="196.8" y="364.6" width="8.7" height="9.0" fill="#0c0ce0" stroke="none" stroke-width="1"/>
<line x1="196.8" y1="364.9" x2="205.5" y2="364.9" stroke="#000060" stroke-width="0.6"/>
<line x1="205.2" y1="364.6" x2="205.2" y2="373.6" stroke="#000090" stroke-width="0.5"/>
<line x1="201.2" y1="363.3" x2="201.2" y2="364.6" stroke="#444" stroke-width="0.45"/>
<line x1="200.2" y1="363.3" x2="202.2" y2="363.3" stroke="#444" stroke-width="0.45"/>
<rect x="217.6" y="328.4" width="8.7" height="45.2" fill="#f41010" stroke="none" stroke-width="1"/>
<line x1="217.6" y1="328.7" x2="226.3" y2="328.7" stroke="#600" stroke-width="0.6"/>
<line x1="226.0" y1="328.4" x2="226.0" y2="373.6" stroke="#a00000" stroke-width="0.5"/>
<line x1="221.9" y1="325.5" x2="221.9" y2="328.4" stroke="#444" stroke-width="0.45"/>
<line x1="220.9" y1="325.5" x2="222.9" y2="325.5" stroke="#444" stroke-width="0.45"/>
<rect x="230.3" y="362.0" width="8.5" height="11.6" fill="#0c0ce0" stroke="none" stroke-width="1"/>
<line x1="230.3" y1="362.3" x2="238.8" y2="362.3" stroke="#000060" stroke-width="0.6"/>
<line x1="238.5" y1="362.0" x2="238.5" y2="373.6" stroke="#000090" stroke-width="0.5"/>
<line x1="234.6" y1="360.5" x2="234.6" y2="362.0" stroke="#444" stroke-width="0.45"/>
<line x1="233.6" y1="360.5" x2="235.6" y2="360.5" stroke="#444" stroke-width="0.45"/>
<rect x="200.0" y="335.3" width="2.9" height="3.6" fill="#f41010" stroke="none" stroke-width="1"/>
<text x="203.5" y="339.0" font-size="4" font-weight="bold" font-family="'Liberation Serif', serif" fill="#000" stroke="#000" stroke-width="0.16" textLength="7.0" lengthAdjust="spacingAndGlyphs">WT</text>
<rect x="200.0" y="341.3" width="2.9" height="3.6" fill="#0c0ce0" stroke="none" stroke-width="1"/>
<text x="203.5" y="345.0" font-size="4" font-weight="bold" font-family="'Liberation Serif', serif" fill="#000" stroke="#000" stroke-width="0.16" textLength="5.0" lengthAdjust="spacingAndGlyphs">KI</text>
<text x="200.4" y="352.5" font-size="4.2" font-weight="normal" font-family="'Liberation Serif', serif" fill="#333" textLength="8.1" lengthAdjust="spacingAndGlyphs">N=5</text>
<text x="188.0" y="321.6" font-size="4.2" font-weight="bold" font-family="'Liberation Serif', serif" fill="#000" stroke="#000" stroke-width="0.16" textLength="8.0" lengthAdjust="spacingAndGlyphs">P&lt;0.01</text>
<line x1="187.0" y1="322.8" x2="197.0" y2="322.8" stroke="#4858b0" stroke-width="0.5"/>
<line x1="187.0" y1="322.8" x2="187.0" y2="324.0" stroke="#4858b0" stroke-width="0.5"/>
<line x1="197.0" y1="322.8" x2="197.0" y2="324.0" stroke="#4858b0" stroke-width="0.5"/>
<text x="221.6" y="320.8" font-size="4.2" font-weight="bold" font-family="'Liberation Serif', serif" fill="#000" stroke="#000" stroke-width="0.16" textLength="8.1" lengthAdjust="spacingAndGlyphs">P&lt;0.01</text>
<line x1="221.0" y1="322.2" x2="230.0" y2="322.2" stroke="#4858b0" stroke-width="0.5"/>
<line x1="221.0" y1="322.2" x2="221.0" y2="323.4" stroke="#4858b0" stroke-width="0.5"/>
<line x1="230.0" y1="322.2" x2="230.0" y2="323.4" stroke="#4858b0" stroke-width="0.5"/>
<text x="200.2" y="363.0" font-size="4" font-weight="bold" font-family="'Liberation Serif', serif" fill="#000" stroke="#000" stroke-width="0.16" textLength="2.0" lengthAdjust="spacingAndGlyphs">*</text>
<text x="233.6" y="360.4" font-size="4" font-weight="bold" font-family="'Liberation Serif', serif" fill="#000" stroke="#000" stroke-width="0.16" textLength="2.0" lengthAdjust="spacingAndGlyphs">*</text>
<text stroke="#222" stroke-width="0.16" transform="translate(169.7,361.4) rotate(-90)" x="0" y="0" font-size="5.42" font-weight="bold" font-family="'Liberation Serif', serif" fill="#222" textLength="35.9" lengthAdjust="spacingAndGlyphs">Percentage (%)</text>
<text x="189.8" y="379.0" font-size="4.6" font-weight="bold" font-family="'Liberation Serif', serif" fill="#000" stroke="#000" stroke-width="0.16" textLength="10.1" lengthAdjust="spacingAndGlyphs">MZ B</text>
<text x="224.1" y="379.0" font-size="4.6" font-weight="bold" font-family="'Liberation Serif', serif" fill="#000" stroke="#000" stroke-width="0.16" textLength="8.1" lengthAdjust="spacingAndGlyphs">T1 B</text>
<text x="249.7" y="250.8" font-size="10.6" font-weight="bold" font-family="'Liberation Sans', sans-serif" fill="#000" stroke="#000" stroke-width="0.45" textLength="7.1" lengthAdjust="spacingAndGlyphs">D</text>
<text x="320.7" y="245.3" font-size="8.31" font-weight="bold" font-family="'Liberation Serif', serif" fill="#000" stroke="#000" stroke-width="0.35" textLength="23.9" lengthAdjust="spacingAndGlyphs">Spleen</text>
<text x="312.2" y="258.4" font-size="8.39" font-weight="bold" font-family="'Liberation Serif', serif" fill="#000" stroke="#000" stroke-width="0.36" textLength="45.1" lengthAdjust="spacingAndGlyphs">B220+ gated</text>
<text x="292.1" y="268.2" font-size="9.2" font-weight="bold" font-family="'Liberation Serif', serif" fill="#000" stroke="#000" stroke-width="0.39" textLength="13.8" lengthAdjust="spacingAndGlyphs">WT</text>
<text x="374.6" y="268.3" font-size="9.2" font-weight="bold" font-family="'Liberation Serif', serif" fill="#000" stroke="#000" stroke-width="0.39" textLength="9.8" lengthAdjust="spacingAndGlyphs">KI</text>
<line x1="254.7" y1="279.5" x2="254.7" y2="347.0" stroke="#222" stroke-width="1.2"/>
<polygon points="254.7,276.0 252.7,280.0 256.7,280.0" fill="#222"/>
<line x1="254.7" y1="346.7" x2="401.9" y2="346.7" stroke="#222" stroke-width="1.2"/>
<polygon points="405.4,346.7 401.4,344.7 401.4,348.7" fill="#222"/>
<text stroke="#000" stroke-width="0.32" transform="translate(250.5,311.5) rotate(-90)" x="0" y="0" font-size="7.6" font-weight="bold" font-family="'Liberation Serif', serif" fill="#000" textLength="15.5" lengthAdjust="spacingAndGlyphs">IgD</text>
<text x="329.4" y="357.8" font-size="8.4" font-weight="bold" font-family="'Liberation Serif', serif" fill="#000" stroke="#000" stroke-width="0.36" textLength="14.4" lengthAdjust="spacingAndGlyphs">IgM</text>
<rect x="264.5" y="268.9" width="64.7" height="65.6" fill="#fff" stroke="#666" stroke-width="1.0"/>
<text x="256.2" y="270.1" font-size="3.2" font-family="'Liberation Serif', serif" fill="#2a2a2a" textLength="3.7" lengthAdjust="spacingAndGlyphs">10</text>
<text x="260.2" y="268.0" font-size="2.4" font-family="'Liberation Serif', serif" fill="#2a2a2a">4</text>
<line x1="264.5" y1="268.9" x2="265.5" y2="268.9" stroke="#555" stroke-width="0.5"/>
<text x="256.2" y="286.5" font-size="3.2" font-family="'Liberation Serif', serif" fill="#2a2a2a" textLength="3.7" lengthAdjust="spacingAndGlyphs">10</text>
<text x="260.2" y="284.4" font-size="2.4" font-family="'Liberation Serif', serif" fill="#2a2a2a">3</text>
<line x1="264.5" y1="285.3" x2="265.5" y2="285.3" stroke="#555" stroke-width="0.5"/>
<text x="256.2" y="302.9" font-size="3.2" font-family="'Liberation Serif', serif" fill="#2a2a2a" textLength="3.7" lengthAdjust="spacingAndGlyphs">10</text>
<text x="260.2" y="300.8" font-size="2.4" font-family="'Liberation Serif', serif" fill="#2a2a2a">2</text>
<line x1="264.5" y1="301.7" x2="265.5" y2="301.7" stroke="#555" stroke-width="0.5"/>
<text x="256.2" y="319.3" font-size="3.2" font-family="'Liberation Serif', serif" fill="#2a2a2a" textLength="3.7" lengthAdjust="spacingAndGlyphs">10</text>
<text x="260.2" y="317.2" font-size="2.4" font-family="'Liberation Serif', serif" fill="#2a2a2a">1</text>
<line x1="264.5" y1="318.1" x2="265.5" y2="318.1" stroke="#555" stroke-width="0.5"/>
<text x="256.2" y="335.7" font-size="3.2" font-family="'Liberation Serif', serif" fill="#2a2a2a" textLength="3.7" lengthAdjust="spacingAndGlyphs">10</text>
<text x="260.2" y="333.6" font-size="2.4" font-family="'Liberation Serif', serif" fill="#2a2a2a">0</text>
<line x1="264.5" y1="334.5" x2="265.5" y2="334.5" stroke="#555" stroke-width="0.5"/>
<text x="262.3" y="339.3" font-size="3.4" font-family="'Liberation Serif', serif" fill="#2a2a2a" textLength="3.6" lengthAdjust="spacingAndGlyphs">10</text>
<text x="266.0" y="337.3" font-size="2.4" font-family="'Liberation Serif', serif" fill="#2a2a2a">0</text>
<text x="278.5" y="339.3" font-size="3.4" font-family="'Liberation Serif', serif" fill="#2a2a2a" textLength="3.6" lengthAdjust="spacingAndGlyphs">10</text>
<text x="282.2" y="337.3" font-size="2.4" font-family="'Liberation Serif', serif" fill="#2a2a2a">1</text>
<text x="294.7" y="339.3" font-size="3.4" font-family="'Liberation Serif', serif" fill="#2a2a2a" textLength="3.6" lengthAdjust="spacingAndGlyphs">10</text>
<text x="298.4" y="337.3" font-size="2.4" font-family="'Liberation Serif', serif" fill="#2a2a2a">2</text>
<text x="310.8" y="339.3" font-size="3.4" font-family="'Liberation Serif', serif" fill="#2a2a2a" textLength="3.6" lengthAdjust="spacingAndGlyphs">10</text>
<text x="314.5" y="337.3" font-size="2.4" font-family="'Liberation Serif', serif" fill="#2a2a2a">3</text>
<text x="327.0" y="339.3" font-size="3.4" font-family="'Liberation Serif', serif" fill="#2a2a2a" textLength="3.6" lengthAdjust="spacingAndGlyphs">10</text>
<text x="330.7" y="337.3" font-size="2.4" font-family="'Liberation Serif', serif" fill="#2a2a2a">4</text>
<defs><filter id="f11" x="-50%" y="-50%" width="200%" height="200%"><feGaussianBlur stdDeviation="1.2"/></filter><clipPath id="c11"><rect x="265.0" y="269.4" width="63.69999999999999" height="64.60000000000002"/></clipPath></defs>
<g clip-path="url(#c11)"><g filter="url(#f11)">
<polygon points="266.0,292.0 272.0,282.0 285.0,274.0 300.0,273.0 308.0,277.0 309.0,300.0 304.0,312.0 294.0,324.0 287.0,334.5 265.0,334.5 265.0,300.0" fill="#b0b8e4" fill-opacity="0.95"/>
<polygon points="268.0,294.0 274.0,285.0 286.0,277.0 300.0,276.0 306.0,281.0 306.5,302.0 301.0,311.0 292.0,321.0 284.0,333.0 267.0,333.0 267.0,305.0" fill="#6a78c4" fill-opacity="0.95"/>
<ellipse cx="289.0" cy="281.0" rx="9.0" ry="3.5" transform="rotate(-15 289.0 281.0)" fill="#4868a8" fill-opacity="0.9"/>
<ellipse cx="298.0" cy="298.0" rx="5.0" ry="9.0" transform="rotate(10 298.0 298.0)" fill="#4868a8" fill-opacity="0.9"/>
<ellipse cx="277.0" cy="313.0" rx="7.0" ry="8.0" transform="rotate(0 277.0 313.0)" fill="#4868a8" fill-opacity="0.9"/>
<ellipse cx="285.0" cy="300.0" rx="5.0" ry="6.0" transform="rotate(0 285.0 300.0)" fill="#5570b4" fill-opacity="0.9"/>
<ellipse cx="272.0" cy="325.0" rx="5.0" ry="6.0" transform="rotate(0 272.0 325.0)" fill="#5a70b8" fill-opacity="0.9"/>
</g></g>
<rect x="278.0" y="274.8" width="19.3" height="11.8" fill="none" stroke="#d070d8" stroke-width="0.6" stroke-dasharray="0.8,0.5"/>
<rect x="297.3" y="272.0" width="11.8" height="12.7" fill="none" stroke="#d070d8" stroke-width="0.6" stroke-dasharray="0.8,0.5"/>
<rect x="295.7" y="284.7" width="11.8" height="25.3" fill="none" stroke="#d070d8" stroke-width="0.6" stroke-dasharray="0.8,0.5"/>
<text x="268.6" y="278.4" font-size="5.2" font-weight="bold" font-family="'Liberation Serif', serif" fill="#000" stroke="#000" stroke-width="0.16" textLength="4.2" lengthAdjust="spacingAndGlyphs">M</text>
<text x="267.4" y="285.5" font-size="5.8" font-weight="bold" font-family="'Liberation Serif', serif" fill="#000" stroke="#000" stroke-width="0.25" textLength="10.6" lengthAdjust="spacingAndGlyphs">12.2</text>
<text x="312.2" y="277.2" font-size="5.2" font-weight="bold" font-family="'Liberation Serif', serif" fill="#000" stroke="#000" stroke-width="0.16" textLength="5.8" lengthAdjust="spacingAndGlyphs">T2</text>
<text x="311.0" y="283.8" font-size="5.8" font-weight="bold" font-family="'Liberation Serif', serif" fill="#000" stroke="#000" stroke-width="0.25" textLength="9.4" lengthAdjust="spacingAndGlyphs">2.75</text>
<text x="312.2" y="296.1" font-size="5.2" font-weight="bold" font-family="'Liberation Serif', serif" fill="#000" stroke="#000" stroke-width="0.16" textLength="4.7" lengthAdjust="spacingAndGlyphs">T1</text>
<text x="310.5" y="302.7" font-size="5.8" font-weight="bold" font-family="'Liberation Serif', serif" fill="#000" stroke="#000" stroke-width="0.25" textLength="9.5" lengthAdjust="spacingAndGlyphs">27.2</text>
<rect x="337.0" y="268.9" width="65.4" height="65.7" fill="#fff" stroke="#666" stroke-width="1.0"/>
<text x="328.7" y="270.1" font-size="3.2" font-family="'Liberation Serif', serif" fill="#2a2a2a" textLength="3.7" lengthAdjust="spacingAndGlyphs">10</text>
<text x="332.7" y="268.0" font-size="2.4" font-family="'Liberation Serif', serif" fill="#2a2a2a">4</text>
<line x1="337.0" y1="268.9" x2="338.0" y2="268.9" stroke="#555" stroke-width="0.5"/>
<text x="328.7" y="286.5" font-size="3.2" font-family="'Liberation Serif', serif" fill="#2a2a2a" textLength="3.7" lengthAdjust="spacingAndGlyphs">10</text>
<text x="332.7" y="284.4" font-size="2.4" font-family="'Liberation Serif', serif" fill="#2a2a2a">3</text>
<line x1="337.0" y1="285.3" x2="338.0" y2="285.3" stroke="#555" stroke-width="0.5"/>
<text x="328.7" y="302.9" font-size="3.2" font-family="'Liberation Serif', serif" fill="#2a2a2a" textLength="3.7" lengthAdjust="spacingAndGlyphs">10</text>
<text x="332.7" y="300.9" font-size="2.4" font-family="'Liberation Serif', serif" fill="#2a2a2a">2</text>
<line x1="337.0" y1="301.8" x2="338.0" y2="301.8" stroke="#555" stroke-width="0.5"/>
<text x="328.7" y="319.4" font-size="3.2" font-family="'Liberation Serif', serif" fill="#2a2a2a" textLength="3.7" lengthAdjust="spacingAndGlyphs">10</text>
<text x="332.7" y="317.3" font-size="2.4" font-family="'Liberation Serif', serif" fill="#2a2a2a">1</text>
<line x1="337.0" y1="318.2" x2="338.0" y2="318.2" stroke="#555" stroke-width="0.5"/>
<text x="328.7" y="335.8" font-size="3.2" font-family="'Liberation Serif', serif" fill="#2a2a2a" textLength="3.7" lengthAdjust="spacingAndGlyphs">10</text>
<text x="332.7" y="333.7" font-size="2.4" font-family="'Liberation Serif', serif" fill="#2a2a2a">0</text>
<line x1="337.0" y1="334.6" x2="338.0" y2="334.6" stroke="#555" stroke-width="0.5"/>
<text x="334.8" y="339.4" font-size="3.4" font-family="'Liberation Serif', serif" fill="#2a2a2a" textLength="3.6" lengthAdjust="spacingAndGlyphs">10</text>
<text x="338.5" y="337.4" font-size="2.4" font-family="'Liberation Serif', serif" fill="#2a2a2a">0</text>
<text x="351.2" y="339.4" font-size="3.4" font-family="'Liberation Serif', serif" fill="#2a2a2a" textLength="3.6" lengthAdjust="spacingAndGlyphs">10</text>
<text x="354.9" y="337.4" font-size="2.4" font-family="'Liberation Serif', serif" fill="#2a2a2a">1</text>
<text x="367.5" y="339.4" font-size="3.4" font-family="'Liberation Serif', serif" fill="#2a2a2a" textLength="3.6" lengthAdjust="spacingAndGlyphs">10</text>
<text x="371.2" y="337.4" font-size="2.4" font-family="'Liberation Serif', serif" fill="#2a2a2a">2</text>
<text x="383.8" y="339.4" font-size="3.4" font-family="'Liberation Serif', serif" fill="#2a2a2a" textLength="3.6" lengthAdjust="spacingAndGlyphs">10</text>
<text x="387.5" y="337.4" font-size="2.4" font-family="'Liberation Serif', serif" fill="#2a2a2a">3</text>
<text x="400.2" y="339.4" font-size="3.4" font-family="'Liberation Serif', serif" fill="#2a2a2a" textLength="3.6" lengthAdjust="spacingAndGlyphs">10</text>
<text x="403.9" y="337.4" font-size="2.4" font-family="'Liberation Serif', serif" fill="#2a2a2a">4</text>
<defs><filter id="f12" x="-50%" y="-50%" width="200%" height="200%"><feGaussianBlur stdDeviation="1.2"/></filter><clipPath id="c12"><rect x="337.5" y="269.4" width="64.39999999999998" height="64.70000000000005"/></clipPath></defs>
<g clip-path="url(#c12)"><g filter="url(#f12)">
<polygon points="339.0,318.0 341.0,296.0 350.0,282.0 361.0,275.0 371.0,276.0 380.0,288.0 383.0,300.0 380.0,312.0 367.0,318.0 357.0,330.0 350.0,334.5 338.0,334.5" fill="#c4caee" fill-opacity="0.95"/>
<polygon points="341.0,318.0 344.0,300.0 352.0,286.0 362.0,278.5 370.0,280.0 376.0,293.0 375.0,306.0 366.0,313.0 356.0,323.0 348.0,332.0 340.0,332.0" fill="#8088d0" fill-opacity="0.9"/>
<ellipse cx="349.5" cy="312.0" rx="6.5" ry="9.0" transform="rotate(0 349.5 312.0)" fill="#4a62b0" fill-opacity="0.9"/>
<ellipse cx="360.0" cy="281.0" rx="8.0" ry="3.0" transform="rotate(-10 360.0 281.0)" fill="#4a62b0" fill-opacity="0.85"/>
<ellipse cx="370.0" cy="297.0" rx="4.0" ry="8.0" transform="rotate(0 370.0 297.0)" fill="#6a78cc" fill-opacity="0.8"/>
</g></g>
<rect x="351.7" y="274.8" width="17.8" height="9.9" fill="none" stroke="#d070d8" stroke-width="0.6" stroke-dasharray="0.8,0.5"/>
<rect x="369.5" y="271.0" width="13.3" height="13.7" fill="none" stroke="#d070d8" stroke-width="0.6" stroke-dasharray="0.8,0.5"/>
<rect x="366.8" y="284.7" width="16.0" height="26.7" fill="none" stroke="#d070d8" stroke-width="0.6" stroke-dasharray="0.8,0.5"/>
<text x="344.2" y="277.7" font-size="5.2" font-weight="bold" font-family="'Liberation Serif', serif" fill="#000" stroke="#000" stroke-width="0.16" textLength="4.7" lengthAdjust="spacingAndGlyphs">M</text>
<text x="341.5" y="284.0" font-size="5.8" font-weight="bold" font-family="'Liberation Serif', serif" fill="#000" stroke="#000" stroke-width="0.25" textLength="9.3" lengthAdjust="spacingAndGlyphs">18.1</text>
<text x="386.6" y="277.1" font-size="5.2" font-weight="bold" font-family="'Liberation Serif', serif" fill="#000" stroke="#000" stroke-width="0.16" textLength="5.5" lengthAdjust="spacingAndGlyphs">T2</text>
<text x="384.7" y="284.0" font-size="5.8" font-weight="bold" font-family="'Liberation Serif', serif" fill="#000" stroke="#000" stroke-width="0.25" textLength="9.6" lengthAdjust="spacingAndGlyphs">2.81</text>
<text x="383.3" y="296.9" font-size="5.2" font-weight="bold" font-family="'Liberation Serif', serif" fill="#000" stroke="#000" stroke-width="0.16" textLength="5.5" lengthAdjust="spacingAndGlyphs">T1</text>
<text x="383.3" y="303.3" font-size="5.8" font-weight="bold" font-family="'Liberation Serif', serif" fill="#000" stroke="#000" stroke-width="0.25" textLength="5.5" lengthAdjust="spacingAndGlyphs">14</text>
<line x1="423.6" y1="268.5" x2="423.6" y2="335.2" stroke="#222" stroke-width="0.8"/>
<line x1="423.6" y1="335.2" x2="500.0" y2="335.2" stroke="#222" stroke-width="0.8"/>
<line x1="422.4" y1="335.2" x2="423.6" y2="335.2" stroke="#222" stroke-width="0.5"/>
<text x="422.2" y="336.7" font-size="4.4" font-weight="bold" font-family="'Liberation Serif', serif" fill="#222" text-anchor="end">0</text>
<line x1="422.4" y1="324.1" x2="423.6" y2="324.1" stroke="#222" stroke-width="0.5"/>
<text x="422.2" y="325.6" font-size="4.4" font-weight="bold" font-family="'Liberation Serif', serif" fill="#222" text-anchor="end">5</text>
<line x1="422.4" y1="313.0" x2="423.6" y2="313.0" stroke="#222" stroke-width="0.5"/>
<text x="422.2" y="314.5" font-size="4.4" font-weight="bold" font-family="'Liberation Serif', serif" fill="#222" text-anchor="end">10</text>
<line x1="422.4" y1="301.9" x2="423.6" y2="301.9" stroke="#222" stroke-width="0.5"/>
<text x="422.2" y="303.4" font-size="4.4" font-weight="bold" font-family="'Liberation Serif', serif" fill="#222" text-anchor="end">15</text>
<line x1="422.4" y1="290.7" x2="423.6" y2="290.7" stroke="#222" stroke-width="0.5"/>
<text x="422.2" y="292.2" font-size="4.4" font-weight="bold" font-family="'Liberation Serif', serif" fill="#222" text-anchor="end">20</text>
<line x1="422.4" y1="279.6" x2="423.6" y2="279.6" stroke="#222" stroke-width="0.5"/>
<text x="422.2" y="281.1" font-size="4.4" font-weight="bold" font-family="'Liberation Serif', serif" fill="#222" text-anchor="end">25</text>
<line x1="422.4" y1="268.5" x2="423.6" y2="268.5" stroke="#222" stroke-width="0.5"/>
<text x="422.2" y="270.0" font-size="4.4" font-weight="bold" font-family="'Liberation Serif', serif" fill="#222" text-anchor="end">30</text>
<rect x="427.4" y="307.0" width="7.0" height="28.2" fill="#f41010" stroke="none" stroke-width="1"/>
<line x1="427.4" y1="307.3" x2="434.4" y2="307.3" stroke="#600" stroke-width="0.6"/>
<line x1="434.1" y1="307.0" x2="434.1" y2="335.2" stroke="#a00000" stroke-width="0.5"/>
<line x1="430.9" y1="306.0" x2="430.9" y2="307.0" stroke="#444" stroke-width="0.45"/>
<line x1="429.9" y1="306.0" x2="431.9" y2="306.0" stroke="#444" stroke-width="0.45"/>
<rect x="437.3" y="297.4" width="7.0" height="37.8" fill="#0c0ce0" stroke="none" stroke-width="1"/>
<line x1="437.3" y1="297.7" x2="444.3" y2="297.7" stroke="#000060" stroke-width="0.6"/>
<line x1="444.0" y1="297.4" x2="444.0" y2="335.2" stroke="#000090" stroke-width="0.5"/>
<line x1="440.8" y1="296.1" x2="440.8" y2="297.4" stroke="#444" stroke-width="0.45"/>
<line x1="439.8" y1="296.1" x2="441.8" y2="296.1" stroke="#444" stroke-width="0.45"/>
<rect x="453.5" y="328.5" width="6.2" height="6.7" fill="#f41010" stroke="none" stroke-width="1"/>
<line x1="453.5" y1="328.8" x2="459.7" y2="328.8" stroke="#600" stroke-width="0.6"/>
<line x1="459.4" y1="328.5" x2="459.4" y2="335.2" stroke="#a00000" stroke-width="0.5"/>
<line x1="456.6" y1="328.2" x2="456.6" y2="328.5" stroke="#444" stroke-width="0.45"/>
<line x1="455.6" y1="328.2" x2="457.6" y2="328.2" stroke="#444" stroke-width="0.45"/>
<rect x="463.0" y="328.5" width="6.7" height="6.7" fill="#0c0ce0" stroke="none" stroke-width="1"/>
<line x1="463.0" y1="328.8" x2="469.7" y2="328.8" stroke="#000060" stroke-width="0.6"/>
<line x1="469.4" y1="328.5" x2="469.4" y2="335.2" stroke="#000090" stroke-width="0.5"/>
<line x1="466.4" y1="328.2" x2="466.4" y2="328.5" stroke="#444" stroke-width="0.45"/>
<line x1="465.4" y1="328.2" x2="467.4" y2="328.2" stroke="#444" stroke-width="0.45"/>
<rect x="479.1" y="275.2" width="6.9" height="60.0" fill="#f41010" stroke="none" stroke-width="1"/>
<line x1="479.1" y1="275.5" x2="486.0" y2="275.5" stroke="#600" stroke-width="0.6"/>
<line x1="485.7" y1="275.2" x2="485.7" y2="335.2" stroke="#a00000" stroke-width="0.5"/>
<line x1="482.6" y1="273.8" x2="482.6" y2="275.2" stroke="#444" stroke-width="0.45"/>
<line x1="481.6" y1="273.8" x2="483.6" y2="273.8" stroke="#444" stroke-width="0.45"/>
<rect x="489.0" y="300.5" width="6.8" height="34.7" fill="#0c0ce0" stroke="none" stroke-width="1"/>
<line x1="489.0" y1="300.8" x2="495.8" y2="300.8" stroke="#000060" stroke-width="0.6"/>
<line x1="495.5" y1="300.5" x2="495.5" y2="335.2" stroke="#000090" stroke-width="0.5"/>
<line x1="492.4" y1="299.2" x2="492.4" y2="300.5" stroke="#444" stroke-width="0.45"/>
<line x1="491.4" y1="299.2" x2="493.4" y2="299.2" stroke="#444" stroke-width="0.45"/>
<rect x="428.6" y="269.5" width="3.3" height="2.9" fill="#f41010" stroke="none" stroke-width="1"/>
<text x="432.9" y="272.6" font-size="4.2" font-weight="bold" font-family="'Liberation Serif', serif" fill="#000" stroke="#000" stroke-width="0.16" textLength="6.9" lengthAdjust="spacingAndGlyphs">WT</text>
<rect x="428.6" y="274.4" width="3.3" height="2.9" fill="#0c0ce0" stroke="none" stroke-width="1"/>
<text x="432.9" y="277.6" font-size="4.2" font-weight="bold" font-family="'Liberation Serif', serif" fill="#000" stroke="#000" stroke-width="0.16" textLength="4.6" lengthAdjust="spacingAndGlyphs">KI</text>
<text x="456.0" y="276.2" font-size="6" font-weight="normal" font-family="'Liberation Serif', serif" fill="#333" textLength="11.2" lengthAdjust="spacingAndGlyphs">N=5</text>
<text x="428.6" y="288.0" font-size="4" font-weight="normal" font-family="'Liberation Sans', sans-serif" fill="#000" textLength="13.7" lengthAdjust="spacingAndGlyphs">P=0.01</text>
<line x1="428.0" y1="289.9" x2="445.0" y2="289.9" stroke="#5070c0" stroke-width="0.6"/>
<line x1="428.0" y1="289.0" x2="428.0" y2="291.0" stroke="#5070c0" stroke-width="0.5"/>
<line x1="445.0" y1="289.0" x2="445.0" y2="291.0" stroke="#5070c0" stroke-width="0.5"/>
<text x="480.9" y="270.2" font-size="4" font-weight="normal" font-family="'Liberation Sans', sans-serif" fill="#000" textLength="13.7" lengthAdjust="spacingAndGlyphs">P=0.01</text>
<line x1="480.0" y1="272.0" x2="496.0" y2="272.0" stroke="#5070c0" stroke-width="0.6"/>
<line x1="480.0" y1="271.0" x2="480.0" y2="273.0" stroke="#5070c0" stroke-width="0.5"/>
<line x1="496.0" y1="271.0" x2="496.0" y2="273.0" stroke="#5070c0" stroke-width="0.5"/>
<text x="439.8" y="295.5" font-size="4" font-weight="bold" font-family="'Liberation Serif', serif" fill="#000" stroke="#000" stroke-width="0.16" textLength="2.0" lengthAdjust="spacingAndGlyphs">*</text>
<text x="491.5" y="297.5" font-size="4" font-weight="bold" font-family="'Liberation Serif', serif" fill="#000" stroke="#000" stroke-width="0.16" textLength="2.0" lengthAdjust="spacingAndGlyphs">*</text>
<text stroke="#000" stroke-width="0.29" transform="translate(412.9,321.2) rotate(-90)" x="0" y="0" font-size="6.73" font-weight="bold" font-family="'Liberation Serif', serif" fill="#000" textLength="42.8" lengthAdjust="spacingAndGlyphs">percentage (%)</text>
<text x="423.3" y="341.0" font-size="5.13" font-weight="bold" font-family="'Liberation Serif', serif" fill="#000" stroke="#000" stroke-width="0.16" textLength="22.2" lengthAdjust="spacingAndGlyphs">Mature B</text>
<text x="453.9" y="341.0" font-size="4.8" font-weight="bold" font-family="'Liberation Serif', serif" fill="#000" stroke="#000" stroke-width="0.16" textLength="10.6" lengthAdjust="spacingAndGlyphs">T2 B</text>
<text x="481.3" y="341.0" font-size="4.8" font-weight="bold" font-family="'Liberation Serif', serif" fill="#000" stroke="#000" stroke-width="0.16" textLength="10.7" lengthAdjust="spacingAndGlyphs">T1 B</text>
</svg></body></html>
